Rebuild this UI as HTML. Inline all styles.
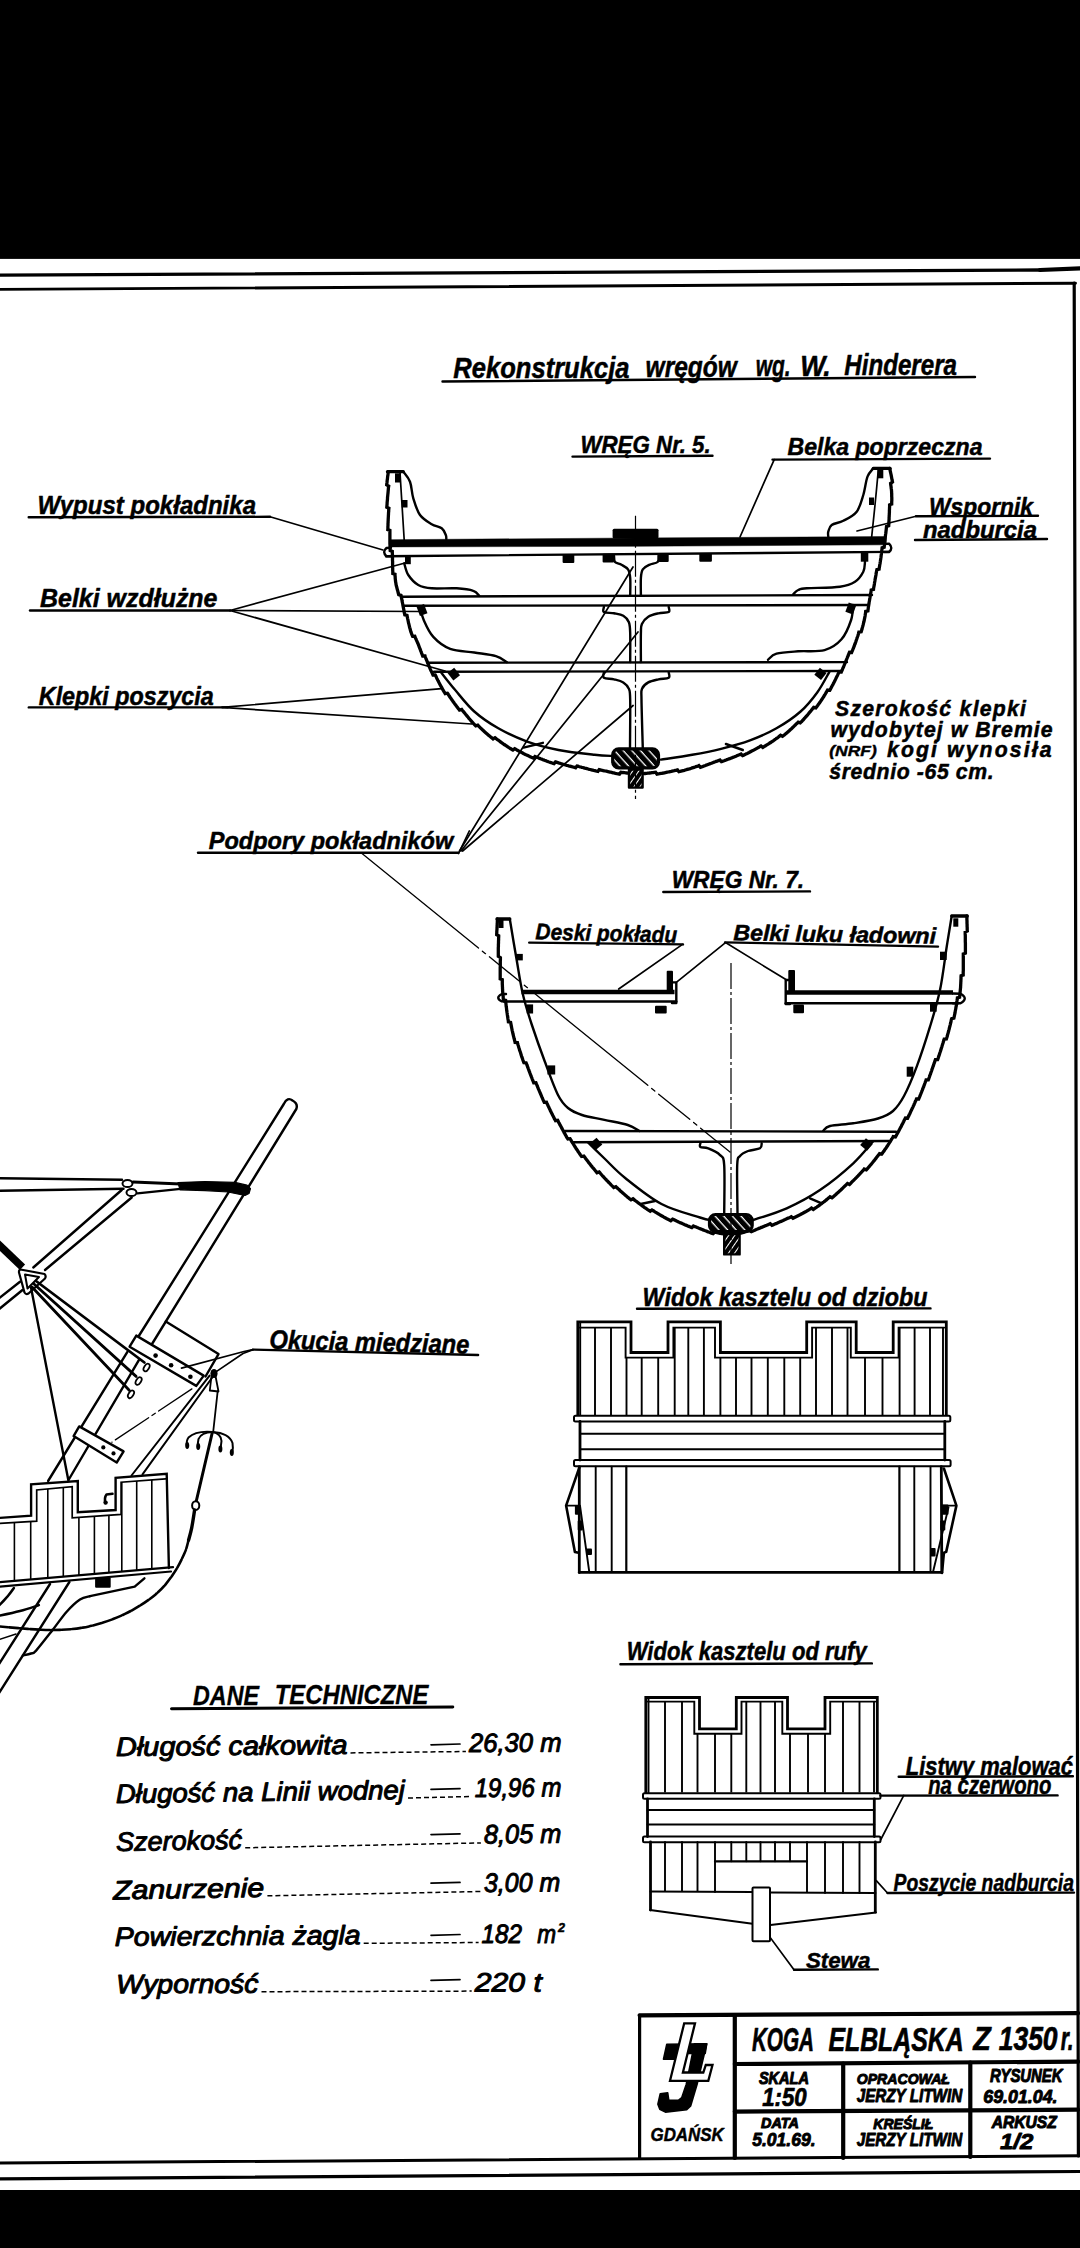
<!DOCTYPE html>
<html lang="pl"><head><meta charset="utf-8"><title>Koga elbląska z 1350 r.</title>
<style>
html,body{margin:0;padding:0;background:#fff;}
body{width:1080px;height:2248px;overflow:hidden;position:relative;}
svg{position:absolute;left:0;top:0;display:block;}
text{font-family:"Liberation Sans",sans-serif;fill:#000;}
</style></head><body>
<svg width="1080" height="2248" viewBox="0 0 1080 2248" stroke-linecap="round" stroke-linejoin="round">
<rect x="0" y="0" width="1080" height="2248" fill="#fff"/>
<rect x="0" y="0" width="1080" height="258.9" fill="#000"/>
<rect x="0" y="2190" width="1080" height="58" fill="#000"/>
<line x1="-2" y1="275.2" x2="1040" y2="270" stroke="#000" stroke-width="3.3" />
<line x1="1040" y1="270" x2="1082" y2="268.2" stroke="#000" stroke-width="4.2" />
<line x1="-2" y1="289.4" x2="1075.5" y2="283.2" stroke="#000" stroke-width="2.9" />
<line x1="1074.2" y1="283.2" x2="1078.4" y2="2156" stroke="#000" stroke-width="3.2" />
<line x1="-2" y1="2163.1" x2="1082" y2="2155.8" stroke="#000" stroke-width="3" />
<line x1="-2" y1="2178.8" x2="1082" y2="2171.5" stroke="#000" stroke-width="3.2" />
<text x="453.3" y="377.9" font-size="29.5" font-weight="bold" font-style="italic" textLength="176.2" lengthAdjust="spacingAndGlyphs" stroke="#000" stroke-width="0.5" stroke-linejoin="round">Rekonstrukcja</text>
<text x="645.6" y="376.6" font-size="29.5" font-weight="bold" font-style="italic" textLength="91.3" lengthAdjust="spacingAndGlyphs" stroke="#000" stroke-width="0.5" stroke-linejoin="round">wręgów</text>
<text x="755.7" y="375.8" font-size="29.5" font-weight="bold" font-style="italic" textLength="34.9" lengthAdjust="spacingAndGlyphs" stroke="#000" stroke-width="0.5" stroke-linejoin="round">wg.</text>
<text x="800.2" y="375.5" font-size="29.5" font-weight="bold" font-style="italic" textLength="30.6" lengthAdjust="spacingAndGlyphs" stroke="#000" stroke-width="0.5" stroke-linejoin="round">W.</text>
<text x="844.3" y="375.2" font-size="29.5" font-weight="bold" font-style="italic" textLength="112.7" lengthAdjust="spacingAndGlyphs" stroke="#000" stroke-width="0.5" stroke-linejoin="round">Hinderera</text>
<line x1="442.5" y1="381.5" x2="975" y2="377" stroke="#000" stroke-width="2.4" />
<text x="580.4" y="452.8" font-size="24.1" font-weight="bold" font-style="italic" textLength="130.3" lengthAdjust="spacingAndGlyphs" stroke="#000" stroke-width="0.5" stroke-linejoin="round">WRĘG Nr. 5.</text>
<line x1="572.5" y1="456.6" x2="712.5" y2="455.8" stroke="#000" stroke-width="2.4" />
<text x="787.5" y="454.9" font-size="24.1" font-weight="bold" font-style="italic" textLength="195" lengthAdjust="spacingAndGlyphs" stroke="#000" stroke-width="0.5" stroke-linejoin="round">Belka poprzeczna</text>
<line x1="772.5" y1="459.6" x2="990" y2="458.6" stroke="#000" stroke-width="2.4" />
<line x1="774.2" y1="459.6" x2="740" y2="537" stroke="#000" stroke-width="1.7" />
<text x="37.5" y="513.8" font-size="25.6" font-weight="bold" font-style="italic" textLength="218.5" lengthAdjust="spacingAndGlyphs" stroke="#000" stroke-width="0.5" stroke-linejoin="round">Wypust pokładnika</text>
<line x1="28.7" y1="517.2" x2="270" y2="516.8" stroke="#000" stroke-width="2.4" />
<line x1="270" y1="516.8" x2="383" y2="550" stroke="#000" stroke-width="1.7" />
<text x="929" y="515.4" font-size="24.7" font-weight="bold" font-style="italic" textLength="104" lengthAdjust="spacingAndGlyphs" stroke="#000" stroke-width="0.5" stroke-linejoin="round">Wspornik</text>
<line x1="916" y1="516.2" x2="1038" y2="515.8" stroke="#000" stroke-width="2.4" />
<text x="923" y="537.8" font-size="24" font-weight="bold" font-style="italic" textLength="114" lengthAdjust="spacingAndGlyphs" stroke="#000" stroke-width="0.5" stroke-linejoin="round">nadburcia</text>
<line x1="915" y1="540" x2="1047" y2="539" stroke="#000" stroke-width="2.4" />
<line x1="916" y1="516.2" x2="857" y2="531" stroke="#000" stroke-width="1.7" />
<text x="40" y="607" font-size="26.5" font-weight="bold" font-style="italic" textLength="177.5" lengthAdjust="spacingAndGlyphs" stroke="#000" stroke-width="0.5" stroke-linejoin="round">Belki wzdłużne</text>
<line x1="30" y1="610.5" x2="230" y2="610.5" stroke="#000" stroke-width="2.4" />
<line x1="230" y1="610.5" x2="420" y2="611.5" stroke="#000" stroke-width="1.7" />
<line x1="230" y1="610.5" x2="405" y2="563" stroke="#000" stroke-width="1.7" />
<line x1="230" y1="610.5" x2="445" y2="671" stroke="#000" stroke-width="1.7" />
<text x="38.8" y="705" font-size="25.4" font-weight="bold" font-style="italic" textLength="175" lengthAdjust="spacingAndGlyphs" stroke="#000" stroke-width="0.5" stroke-linejoin="round">Klepki poszycia</text>
<line x1="28.8" y1="707.4" x2="227.5" y2="707.4" stroke="#000" stroke-width="2.4" />
<line x1="222" y1="707.4" x2="441.8" y2="688.6" stroke="#000" stroke-width="1.7" />
<line x1="222" y1="707.4" x2="471.8" y2="724" stroke="#000" stroke-width="1.7" />
<text x="835" y="715.5" font-size="21.2" font-weight="bold" font-style="italic" textLength="191" lengthAdjust="spacing" stroke="#000" stroke-width="0.5" stroke-linejoin="round">Szerokość klepki</text>
<text x="830.4" y="736.5" font-size="21.2" font-weight="bold" font-style="italic" textLength="222.2" lengthAdjust="spacing" stroke="#000" stroke-width="0.5" stroke-linejoin="round">wydobytej w Bremie</text>
<text x="829.3" y="755.5" font-size="14.8" font-weight="bold" font-style="italic" textLength="47.4" lengthAdjust="spacingAndGlyphs" stroke="#000" stroke-width="0.4" stroke-linejoin="round">(NRF)</text>
<text x="887" y="756.5" font-size="21.2" font-weight="bold" font-style="italic" textLength="164.5" lengthAdjust="spacing" stroke="#000" stroke-width="0.5" stroke-linejoin="round">kogi wynosiła</text>
<text x="829.3" y="779" font-size="21.2" font-weight="bold" font-style="italic" textLength="164.3" lengthAdjust="spacing" stroke="#000" stroke-width="0.5" stroke-linejoin="round">średnio -65 cm.</text>
<text x="208.8" y="848.7" font-size="24.7" font-weight="bold" font-style="italic" textLength="244.4" lengthAdjust="spacingAndGlyphs" stroke="#000" stroke-width="0.5" stroke-linejoin="round">Podpory pokładników</text>
<line x1="198" y1="852.8" x2="458.5" y2="852.8" stroke="#000" stroke-width="2.4" />
<line x1="458.5" y1="853.5" x2="469.3" y2="831" stroke="#000" stroke-width="1.7" />
<line x1="459.5" y1="851" x2="633" y2="567" stroke="#000" stroke-width="1.7" />
<line x1="461" y1="851" x2="638" y2="632" stroke="#000" stroke-width="1.7" />
<line x1="462.6" y1="851" x2="633.1" y2="705.5" stroke="#000" stroke-width="1.7" />
<line x1="362" y1="853.5" x2="730" y2="1152" stroke="#000" stroke-width="1.3" stroke-dasharray="150 5 4 5 40 5 4 5"/>
<text x="671.7" y="887.8" font-size="24.4" font-weight="bold" font-style="italic" textLength="132.5" lengthAdjust="spacingAndGlyphs" stroke="#000" stroke-width="0.5" stroke-linejoin="round">WRĘG Nr. 7.</text>
<line x1="663.3" y1="892" x2="810" y2="891.4" stroke="#000" stroke-width="2.4" />
<text x="535.3" y="939.3" font-size="22.7" font-weight="bold" font-style="italic" textLength="141.7" lengthAdjust="spacingAndGlyphs" stroke="#000" stroke-width="0.5" stroke-linejoin="round" transform="rotate(1.3 535.3 939.3)">Deski pokładu</text>
<line x1="529.2" y1="942.6" x2="683" y2="944.4" stroke="#000" stroke-width="2.4" />
<text x="733.2" y="940.2" font-size="22.4" font-weight="bold" font-style="italic" textLength="202.8" lengthAdjust="spacingAndGlyphs" stroke="#000" stroke-width="0.5" stroke-linejoin="round" transform="rotate(1 733.2 940.2)">Belki luku ładowni</text>
<line x1="725" y1="942.4" x2="938" y2="946.6" stroke="#000" stroke-width="2.4" />
<text x="269.3" y="1348.6" font-size="26.5" font-weight="bold" font-style="italic" textLength="200" lengthAdjust="spacingAndGlyphs" stroke="#000" stroke-width="0.5" stroke-linejoin="round" transform="rotate(1.4 269.3 1348.6)">Okucia miedziane</text>
<line x1="253" y1="1349.6" x2="478.1" y2="1355" stroke="#000" stroke-width="2.4" />
<text x="642.6" y="1305.8" font-size="25.9" font-weight="bold" font-style="italic" textLength="285" lengthAdjust="spacingAndGlyphs" stroke="#000" stroke-width="0.5" stroke-linejoin="round">Widok kasztelu od dziobu</text>
<line x1="637" y1="1308.7" x2="930.5" y2="1308.4" stroke="#000" stroke-width="2.4" />
<text x="626.7" y="1660.4" font-size="25.6" font-weight="bold" font-style="italic" textLength="240" lengthAdjust="spacingAndGlyphs" stroke="#000" stroke-width="0.5" stroke-linejoin="round">Widok kasztelu od rufy</text>
<line x1="620.4" y1="1664.2" x2="871.9" y2="1663.4" stroke="#000" stroke-width="2.4" />
<text x="905.8" y="1774.6" font-size="25.1" font-weight="bold" font-style="italic" textLength="167.1" lengthAdjust="spacingAndGlyphs" stroke="#000" stroke-width="0.5" stroke-linejoin="round">Listwy malować</text>
<line x1="898.7" y1="1776.8" x2="1072.9" y2="1776.3" stroke="#000" stroke-width="2.4" />
<text x="928.2" y="1794" font-size="25.4" font-weight="bold" font-style="italic" textLength="123.3" lengthAdjust="spacingAndGlyphs" stroke="#000" stroke-width="0.5" stroke-linejoin="round">na czerwono</text>
<text x="893.6" y="1890.7" font-size="23.7" font-weight="bold" font-style="italic" textLength="180.3" lengthAdjust="spacingAndGlyphs" stroke="#000" stroke-width="0.5" stroke-linejoin="round">Poszycie nadburcia</text>
<line x1="887.5" y1="1893" x2="1074" y2="1892.6" stroke="#000" stroke-width="2.4" />
<line x1="887.5" y1="1893" x2="876.3" y2="1880.6" stroke="#000" stroke-width="1.7" />
<text x="805.9" y="1967.5" font-size="22.7" font-weight="bold" font-style="italic" textLength="64.5" lengthAdjust="spacingAndGlyphs" stroke="#000" stroke-width="0.5" stroke-linejoin="round">Stewa</text>
<line x1="794" y1="1969.8" x2="877.8" y2="1969.4" stroke="#000" stroke-width="2.4" />
<line x1="794" y1="1969.8" x2="762.2" y2="1926.7" stroke="#000" stroke-width="1.7" />
<text x="193" y="1704.8" font-size="27" font-weight="bold" font-style="italic" textLength="66" lengthAdjust="spacingAndGlyphs" stroke="#000" stroke-width="0.3" stroke-linejoin="round">DANE</text>
<text x="274.8" y="1704.2" font-size="27" font-weight="bold" font-style="italic" textLength="153.6" lengthAdjust="spacingAndGlyphs" stroke="#000" stroke-width="0.3" stroke-linejoin="round">TECHNICZNE</text>
<line x1="171.5" y1="1708.8" x2="452.8" y2="1707" stroke="#000" stroke-width="3" />
<text x="116" y="1756" font-size="26.6" font-weight="normal" font-style="italic" textLength="231.5" lengthAdjust="spacingAndGlyphs" stroke="#000" stroke-width="1" stroke-linejoin="round" transform="rotate(-0.5 116 1756)">Długość całkowita</text>
<text x="468.9" y="1752" font-size="26.6" font-weight="normal" font-style="italic" textLength="92.6" lengthAdjust="spacingAndGlyphs" stroke="#000" stroke-width="1" stroke-linejoin="round" transform="rotate(-0.3 468.9 1752)">26,30 m</text>
<line x1="350.5" y1="1752.9" x2="465.9" y2="1751.5" stroke="#000" stroke-width="1.5" stroke-dasharray="5 3" stroke-linecap="butt"/>
<line x1="431" y1="1744.8" x2="460" y2="1744" stroke="#000" stroke-width="1.7" />
<text x="116" y="1803" font-size="26.6" font-weight="normal" font-style="italic" textLength="289" lengthAdjust="spacingAndGlyphs" stroke="#000" stroke-width="1" stroke-linejoin="round" transform="rotate(-0.8 116 1803)">Długość na Linii wodnej</text>
<text x="474.7" y="1797" font-size="26.6" font-weight="normal" font-style="italic" textLength="86.8" lengthAdjust="spacingAndGlyphs" stroke="#000" stroke-width="1" stroke-linejoin="round" transform="rotate(-0.4 474.7 1797)">19,96 m</text>
<line x1="408" y1="1798" x2="471.7" y2="1796.5" stroke="#000" stroke-width="1.5" stroke-dasharray="5 3" stroke-linecap="butt"/>
<line x1="431" y1="1789.4" x2="460" y2="1788.6" stroke="#000" stroke-width="1.7" />
<text x="116.3" y="1851" font-size="26.6" font-weight="normal" font-style="italic" textLength="125.9" lengthAdjust="spacingAndGlyphs" stroke="#000" stroke-width="1" stroke-linejoin="round" transform="rotate(-1 116.3 1851)">Szerokość</text>
<text x="483.9" y="1843.4" font-size="26.6" font-weight="normal" font-style="italic" textLength="77.6" lengthAdjust="spacingAndGlyphs" stroke="#000" stroke-width="1" stroke-linejoin="round" transform="rotate(-0.5 483.9 1843.4)">8,05 m</text>
<line x1="245.2" y1="1847.8" x2="480.9" y2="1842.9" stroke="#000" stroke-width="1.5" stroke-dasharray="5 3" stroke-linecap="butt"/>
<line x1="431" y1="1834.6" x2="460" y2="1833.8" stroke="#000" stroke-width="1.7" />
<text x="113.3" y="1899.4" font-size="26.6" font-weight="normal" font-style="italic" textLength="151.1" lengthAdjust="spacingAndGlyphs" stroke="#000" stroke-width="1" stroke-linejoin="round" transform="rotate(-1 113.3 1899.4)">Zanurzenie</text>
<text x="483.9" y="1892" font-size="26.6" font-weight="normal" font-style="italic" textLength="76.4" lengthAdjust="spacingAndGlyphs" stroke="#000" stroke-width="1" stroke-linejoin="round" transform="rotate(-0.5 483.9 1892)">3,00 m</text>
<line x1="267.4" y1="1895.8" x2="480.9" y2="1891.5" stroke="#000" stroke-width="1.5" stroke-dasharray="5 3" stroke-linecap="butt"/>
<line x1="431" y1="1883.2" x2="460" y2="1882.4" stroke="#000" stroke-width="1.7" />
<text x="114.8" y="1945.9" font-size="26.6" font-weight="normal" font-style="italic" textLength="245.9" lengthAdjust="spacingAndGlyphs" stroke="#000" stroke-width="1" stroke-linejoin="round" transform="rotate(-0.4 114.8 1945.9)">Powierzchnia żagla</text>
<text x="481.6" y="1943" font-size="26.6" font-weight="normal" font-style="italic" textLength="40.5" lengthAdjust="spacingAndGlyphs" stroke="#000" stroke-width="1" stroke-linejoin="round" transform="rotate(-0.2 481.6 1943)">182</text>
<line x1="363.7" y1="1943.3" x2="478.6" y2="1942.5" stroke="#000" stroke-width="1.5" stroke-dasharray="5 3" stroke-linecap="butt"/>
<line x1="431" y1="1935.3" x2="460" y2="1934.5" stroke="#000" stroke-width="1.7" />
<text x="116.3" y="1993.3" font-size="26.6" font-weight="normal" font-style="italic" textLength="142.2" lengthAdjust="spacingAndGlyphs" stroke="#000" stroke-width="1" stroke-linejoin="round" transform="rotate(-0.2 116.3 1993.3)">Wyporność</text>
<text x="474.7" y="1991.6" font-size="26.6" font-weight="normal" font-style="italic" textLength="67.1" lengthAdjust="spacingAndGlyphs" stroke="#000" stroke-width="1" stroke-linejoin="round" transform="rotate(-0.1 474.7 1991.6)">220 t</text>
<line x1="261.5" y1="1991.7" x2="471.7" y2="1991.1" stroke="#000" stroke-width="1.5" stroke-dasharray="5 3" stroke-linecap="butt"/>
<line x1="431" y1="1980.4" x2="460" y2="1979.6" stroke="#000" stroke-width="1.7" />
<text x="537.2" y="1942.6" font-size="26.6" font-weight="normal" font-style="italic" textLength="18.8" lengthAdjust="spacingAndGlyphs" stroke="#000" stroke-width="1" stroke-linejoin="round">m</text>
<text x="558" y="1931.5" font-size="13.1" font-weight="bold" font-style="italic" textLength="7" lengthAdjust="spacingAndGlyphs" stroke="#000" stroke-width="0.5" stroke-linejoin="round">2</text>
<path d="M388.3 471.7L388.2 472.3L388.1 472.9L388.1 473.6L388 474.4L387.9 475.2L387.7 476.1L387.6 477.1L387.5 478.1L387.4 479.1L387.2 480.2L387.1 481.3L387 482.5L386.8 483.6L386.7 484.8L388.7 486L388.5 487.2L388.4 488.4L388.3 489.6L388.2 490.7L388.1 491.9L388 493L387.9 493.9L387.8 494.9L387.7 495.9L387.6 496.8L387.5 497.8L387.5 498.9L387.4 499.9L387.3 500.9L387.2 501.9L387.1 503L387.1 504L387 505.1L386.9 506.1L386.8 507.2L388.9 508.2L388.8 509.2L388.7 510.2L388.7 511.2L388.6 512.2L388.5 513.2L388.5 514.2L388.4 515.2L388.4 516.1L388.3 517.1L388.3 518L388.2 519.1L388.2 520.2L388.1 521.3L388.1 522.4L388 523.4L388 524.5L388 525.5L387.9 526.6L387.9 527.6L387.9 528.6L387.8 529.6L389.9 530.4L389.9 531.4L389.9 532.3L389.9 533.3L389.9 534.2L389.9 535.2L389.9 536.1L389.9 537L389.9 538L389.9 539.1L389.9 540.1L389.9 541.1L389.9 542.1L389.9 543L389.9 543.9L390 544.9L390 545.8L390 546.7L390.1 547.7L390.1 548.6L390.1 549.6L390.2 550.6L392.3 551.4L392.3 552.5L392.4 553.7L392.4 554.9L392.4 555.8L392.5 556.7L392.5 557.6L392.5 558.6L392.5 559.6L392.5 560.6L392.6 561.6L392.6 562.7L392.6 563.8L392.6 564.8L392.6 565.9L392.6 567L392.7 568.1L392.7 569.2L392.7 570.3L392.8 571.4L392.8 572.4L392.8 573.5L395 574.2L395 575.3L395.1 576.2L395.2 577.2L395.2 578.1L395.3 579L395.4 579.9L395.5 581.1L395.7 582.2L395.9 583.3L396 584.3L396.2 585.2L396.4 586.1L396.7 587L396.9 587.8L397.1 588.7L397.3 589.6L397.6 590.5L397.9 591.5L398.1 592.5L398.4 593.6L398.7 594.7L401 595.4L401.3 596.8L401.4 597.6L401.6 598.4L401.8 599.3L402 600.2L402.1 601.1L402.3 602.1L402.5 603L402.7 604L402.9 605.1L403.1 606.1L403.3 607.2L403.5 608.3L403.7 609.3L403.9 610.4L404.1 611.5L404.3 612.6L404.5 613.7L404.8 614.9L407 615.4L407.2 616.4L407.4 617.5L407.6 618.6L407.9 619.6L408.1 620.7L408.3 621.7L408.5 622.7L408.7 623.7L409 624.6L409.2 625.5L409.4 626.4L409.6 627.3L409.8 628.1L410.2 629.3L410.5 630.5L410.8 631.6L411.2 632.6L411.5 633.6L411.9 634.5L412.2 635.5L412.6 636.3L414.8 636.2L415.1 637L415.4 637.9L415.8 638.7L416.2 639.5L416.5 640.3L416.9 641.2L417.3 642.1L417.7 643L418.1 643.9L418.5 644.9L418.9 646L419.2 646.8L419.5 647.7L419.9 648.6L420.2 649.5L420.6 650.4L420.9 651.3L421.3 652.2L421.6 653.1L422 654.1L422.3 655L422.7 656L425 656L425.3 657L425.7 658L426.1 659L426.5 659.9L426.9 660.9L427.3 661.9L427.6 662.9L428 663.8L428.5 664.8L428.9 665.8L429.3 666.8L429.7 667.7L430.1 668.7L430.5 669.6L430.9 670.5L431.4 671.4L431.8 672.3L432.2 673.2L432.6 674.1L433 675L435.2 674.9L435.7 675.8L436.1 676.7L436.5 677.6L436.9 678.5L437.4 679.4L437.8 680.2L438.3 681.1L438.7 682L439.2 682.9L439.6 683.8L440.1 684.7L440.6 685.6L441.1 686.5L441.6 687.4L442.1 688.3L442.6 689.2L443.1 690.1L443.6 691L444.1 691.9L444.7 692.7L445.2 693.6L447.4 693.2L448 694L448.5 694.9L449.1 695.7L449.6 696.6L450.2 697.4L450.8 698.3L451.4 699.1L452 700L452.6 700.8L453.2 701.7L453.8 702.5L454.4 703.4L455 704.2L455.7 705.1L456.3 705.9L456.9 706.8L457.6 707.6L458.2 708.4L458.9 709.3L459.5 710.1L461.7 709.5L462.3 710.3L463 711.1L463.7 711.9L464.3 712.7L465 713.5L465.6 714.3L466.3 715.1L466.9 715.9L467.6 716.7L468.3 717.5L468.9 718.3L469.6 719L470.2 719.8L470.9 720.6L471.6 721.4L472.2 722.1L472.9 722.9L473.6 723.7L474.3 724.4L475 725.2L475.7 725.9L477.8 725.1L478.5 725.9L479.2 726.6L479.9 727.3L480.7 728.1L481.4 728.8L482.2 729.5L483 730.3L483.8 731L484.6 731.8L485.4 732.5L486.2 733.2L486.9 733.8L487.7 734.5L488.4 735.1L489.2 735.7L489.9 736.3L490.7 737L491.5 737.6L492.3 738.2L493.1 738.9L495 737.7L495.8 738.3L496.6 739L497.4 739.6L498.3 740.2L499.1 740.8L499.9 741.4L500.8 742.1L501.6 742.7L502.5 743.3L503.3 743.9L504.2 744.5L505 745L505.9 745.6L506.8 746.2L507.7 746.8L508.5 747.4L509.4 747.9L510.3 748.5L511.2 749L512 749.6L512.9 750.1L514.7 748.7L515.6 749.2L516.4 749.7L517.3 750.2L518.2 750.7L519 751.2L519.9 751.7L520.8 752.1L521.7 752.6L522.6 753L523.4 753.5L524.3 753.9L525.2 754.4L526.1 754.8L527 755.2L527.9 755.6L528.8 756.1L529.7 756.5L530.6 756.9L531.5 757.3L532.5 757.7L533.4 758.1L535 756.5L535.9 756.9L536.8 757.2L537.7 757.6L538.7 758L539.6 758.4L540.6 758.8L541.6 759.1L542.5 759.5L543.5 759.9L544.5 760.3L545.5 760.6L546.4 761L547.4 761.3L548.3 761.7L549.2 762L550.2 762.3L551.1 762.7L552.1 763L553.1 763.3L554.1 763.6L555.5 761.9L556.5 762.2L557.5 762.5L558.5 762.9L559.5 763.2L560.5 763.5L561.5 763.8L562.5 764.1L563.6 764.4L564.6 764.7L565.6 765L566.6 765.3L567.6 765.5L568.6 765.8L569.7 766.1L570.7 766.4L571.7 766.7L572.7 767L573.7 767.2L574.7 767.5L575.6 767.8L577 766L578 766.2L578.9 766.5L579.9 766.8L580.8 767L581.8 767.3L582.7 767.5L583.8 767.8L584.8 768.1L585.9 768.4L587 768.7L588.1 769L589.2 769.3L590.3 769.5L591.4 769.8L592.5 770.1L593.6 770.4L594.7 770.6L595.7 770.9L596.8 771.2L597.9 771.4L599.2 769.6L600.3 769.8L601.3 770.1L602.3 770.3L603.3 770.6L604.3 770.8L605.3 771L606.3 771.2L607.2 771.4L608.1 771.7L609 771.9L609.9 772.1L610.7 772.2L611.5 772.4L612.3 772.6L613.1 772.8L613.8 772.9L615.4 773.3L616.9 773.6L618.2 773.8L619.5 774.1L620.9 772.2L621.9 772.3L622.9 772.5L623.9 772.6L624.7 772.7L625.5 772.8L626.2 772.9L626.9 773L627.5 773.1L628 773.2" fill="none" stroke="#000" stroke-width="3.3" stroke-linejoin="miter"/>
<path d="M889.7 468.3L889.8 468.9L889.9 469.5L890.1 470.2L890.2 470.9L890.4 471.7L890.6 472.6L890.8 473.5L891 474.4L891.2 475.4L891.4 476.4L891.6 477.5L891.8 478.6L892 479.7L892.3 480.9L892.5 482.1L890.6 483.4L890.7 484.6L890.9 485.8L891.1 487L891.2 488.2L891.4 489.3L891.5 490.5L891.6 491.7L891.6 492.6L891.7 493.5L891.7 494.5L891.7 495.5L891.7 496.5L891.8 497.5L891.8 498.6L891.8 499.6L891.8 500.7L891.7 501.8L891.7 502.9L891.7 504L889.6 504.8L889.6 505.9L889.6 507L889.5 508.1L889.5 509.2L889.4 510.3L889.4 511.4L889.4 512.4L889.3 513.5L889.3 514.5L889.2 515.5L889.2 516.5L889.1 517.4L889.1 518.4L889.1 519.3L889 520.1L889 521L888.9 521.8L888.9 523.2L888.8 524.5L888.7 525.8L886.5 526.5L886.4 527.6L886.3 528.6L886.2 529.6L886.1 530.5L886 531.4L885.9 532.3L885.8 533.2L885.6 534.2L885.5 535.1L885.4 536.1L885.3 537.2L885.2 538.3L885.1 539.3L885 540.2L884.9 541.2L884.8 542.2L884.7 543.1L884.6 544.1L884.4 545.1L884.3 546.2L884.2 547.2L882.1 547.8L882 548.8L881.9 549.9L881.7 550.9L881.6 551.9L881.5 553L881.4 554L881.2 555.1L881.1 556.2L881 557.2L880.8 558.3L880.7 559.3L880.5 560.2L880.4 561.2L880.2 562.2L880.1 563.2L879.9 564.2L879.7 565.1L879.6 566.1L879.4 567.1L879.2 568.1L879.1 569.1L876.9 569.6L876.7 570.6L876.5 571.6L876.3 572.6L876.1 573.6L876 574.7L875.8 575.7L875.6 576.8L875.4 577.9L875.2 578.9L875 580L874.9 581L874.7 582L874.5 583L874.4 584L874.2 585.1L874 586.2L873.8 587.2L873.6 588.3L873.5 589.4L871.2 590L871.1 591.1L870.9 592.2L870.7 593.3L870.5 594.4L870.3 595.4L870.1 596.5L870 597.5L869.8 598.6L869.6 599.6L869.5 600.6L869.3 601.5L869.1 602.5L869 603.4L868.8 604.3L868.7 605.1L868.5 606.4L868.3 607.6L868.2 608.8L868 609.9L867.9 610.9L865.7 611.4L865.6 612.3L865.5 613.3L865.3 614.2L865.2 615.1L865.1 616L864.9 616.9L864.7 617.9L864.5 618.9L864.3 619.9L864.1 620.9L863.9 621.8L863.6 622.8L863.4 623.8L863.2 624.7L862.9 625.7L862.6 626.8L862.3 627.8L862.1 628.8L861.8 629.8L861.5 630.8L861.2 631.8L858.9 632L858.7 633L858.4 634L858.1 634.9L857.8 635.9L857.5 636.8L857.1 637.8L856.8 638.8L856.5 639.7L856.2 640.6L855.9 641.5L855.6 642.3L855.3 643.2L855 644L854.6 644.9L854.3 645.9L853.9 646.9L853.5 648L853 649.1L852.5 650.4L851.9 651.7L851.6 652.5L849.5 652.3L849.2 653L848.8 653.9L848.5 654.7L848.2 655.6L847.8 656.4L847.4 657.3L847.1 658.3L846.7 659.2L846.3 660.1L845.9 661.1L845.5 662.1L845.1 663L844.7 664L844.3 665L843.9 666L843.5 667L843 668L842.6 669L842.2 670L841.7 671L841.3 672L839 672L838.6 673L838.1 673.9L837.7 674.9L837.3 675.8L836.8 676.7L836.4 677.6L835.9 678.5L835.5 679.4L835 680.4L834.6 681.3L834.1 682.2L833.6 683.1L833.2 684L832.7 684.9L832.2 685.8L831.7 686.7L831.3 687.6L830.8 688.5L830.3 689.4L829.8 690.3L827.6 690L827.1 690.9L826.6 691.7L826.1 692.6L825.6 693.5L825.1 694.4L824.5 695.2L824 696.1L823.5 697L822.9 697.8L822.4 698.7L821.8 699.6L821.2 700.4L820.6 701.3L820.1 702.1L819.5 702.9L818.9 703.8L818.3 704.6L817.7 705.4L817.1 706.3L816.5 707.1L815.9 707.9L813.7 707.3L813.1 708.1L812.4 708.9L811.8 709.7L811.2 710.5L810.5 711.3L809.8 712.1L809.2 712.9L808.5 713.7L807.9 714.5L807.2 715.3L806.5 716.1L805.8 716.9L805.1 717.7L804.4 718.4L803.8 719.2L803.1 720L802.4 720.7L801.7 721.5L801 722.2L800.3 722.9L798.2 722.1L797.5 722.8L796.8 723.5L796.1 724.2L795.3 725L794.6 725.7L793.9 726.4L793.2 727.1L792.4 727.8L791.7 728.5L790.9 729.2L790.2 729.8L789.5 730.5L788.7 731.2L788 731.9L787.2 732.5L786.4 733.2L785.7 733.8L784.9 734.5L784.1 735.1L783.3 735.8L782.5 736.4L780.6 735.3L779.8 735.9L779 736.5L778.2 737.2L777.4 737.8L776.5 738.4L775.7 739L774.8 739.6L774 740.2L773.2 740.8L772.4 741.3L771.5 741.9L770.7 742.5L769.8 743L769 743.6L768.1 744.1L767.2 744.7L766.4 745.2L765.5 745.8L764.6 746.3L763.7 746.8L762.8 747.4L761 746L760.1 746.5L759.2 747.1L758.3 747.6L757.3 748.1L756.4 748.6L755.5 749.1L754.6 749.6L753.7 750.1L752.8 750.6L751.8 751L750.9 751.5L750 752L749.1 752.5L748.2 752.9L747.3 753.4L746.4 753.8L745.4 754.3L744.5 754.7L743.6 755.2L742.6 755.6L741 754L740.1 754.4L739.2 754.8L738.2 755.2L737.3 755.6L736.4 756L735.4 756.4L734.5 756.8L733.6 757.1L732.6 757.5L731.7 757.9L730.8 758.2L729.8 758.6L728.9 758.9L727.9 759.3L727 759.6L726.1 760L725.1 760.3L724.2 760.7L723.3 761L722.3 761.4L721.4 761.7L719.9 760L719 760.4L718 760.7L717.1 761.1L716.1 761.4L715.2 761.8L714.2 762.1L713.2 762.5L712.2 762.9L711.3 763.3L710.3 763.6L709.3 764L708.3 764.4L707.3 764.7L706.3 765.1L705.4 765.5L704.4 765.8L703.4 766.2L702.4 766.6L701.4 766.9L700.4 767.3L698.9 765.6L698 766L697 766.3L696 766.6L695.1 767L694.1 767.3L693.1 767.6L692.2 767.9L691.2 768.3L690.3 768.6L689.3 768.9L688.4 769.1L687.4 769.4L686.4 769.7L685.3 770L684.3 770.3L683.2 770.6L682.1 770.9L681 771.2L680 771.5L678.9 771.7L677.5 769.9L676.5 770.2L675.4 770.4L674.4 770.7L673.3 770.9L672.3 771.1L671.3 771.4L670.2 771.6L669.2 771.8L668.3 772L667.3 772.2L666.3 772.4L665.4 772.6L664.4 772.8L663.5 773L662.7 773.1L661.8 773.3L661 773.5L659.6 773.7L658.3 774L657 774.2L655.6 772.3L654.3 772.4L653.1 772.6L651.9 772.7L650.8 772.9L649.7 773L648.7 773.1L647.7 773.2L646.8 773.3L646 773.4L645.2 773.5L644.6 773.5L644 773.6" fill="none" stroke="#000" stroke-width="3.3" stroke-linejoin="miter"/>
<line x1="387.5" y1="471.7" x2="403.3" y2="471.7" stroke="#000" stroke-width="3.3" />
<line x1="873.3" y1="468.3" x2="890" y2="468.3" stroke="#000" stroke-width="3.3" />
<path d="M400 472.5L404.2 540" fill="none" stroke="#000" stroke-width="1.7" />
<path d="M878.3 470C877.8 475.8 876.1 493.9 875 505C873.9 516.1 872.2 531.4 871.7 536.7" fill="none" stroke="#000" stroke-width="1.7" />
<path d="M403.3 471.7C404.4 473.4 408.3 477.3 410 481.7C411.7 486.1 411.6 492.8 413.3 498.3C415 503.9 416.9 510.7 420 515C423.1 519.3 428.1 522 431.7 524.2C435.3 526.4 439.3 526.5 441.7 528.3C444.1 530.1 445 533.2 445.8 535C446.6 536.8 446.2 538.5 446.3 539.2" fill="none" stroke="#000" stroke-width="2.4" />
<path d="M873.3 468.3C872.3 469.7 869.2 472.2 867.5 476.7C865.8 481.1 865.1 489.2 863.3 495C861.5 500.8 860 507.4 856.7 511.7C853.4 516 847.5 518.6 843.3 520.8C839.1 523 834.2 523.2 831.7 525C829.2 526.8 828.9 529.8 828.3 531.7C827.7 533.7 828.3 535.9 828.3 536.7" fill="none" stroke="#000" stroke-width="2.4" />
<path d="M390.5 539.7L635 538L886 536.6L886 544.8L635 546.3L390.5 546.9Z" fill="#000" stroke="#000" stroke-width="0.5" />
<line x1="386" y1="556.2" x2="889" y2="551.9" stroke="#000" stroke-width="2.4" />
<path d="M391 547.6L386.5 548Q381.8 552 386.5 556.3L391 556.3" fill="none" stroke="#000" stroke-width="2.4" />
<path d="M885 544L889 543.6Q893.6 548 889 552L884 552" fill="none" stroke="#000" stroke-width="2.4" />
<rect x="612.6" y="528.7" width="45.9" height="9.8" fill="#000" rx="1.5"/>
<rect x="562.6" y="554.1" width="11.7" height="8.8" fill="#000" rx="1"/>
<rect x="602.6" y="553.8" width="11.4" height="8.8" fill="#000" rx="1"/>
<rect x="658.5" y="553.3" width="10.2" height="8.8" fill="#000" rx="1"/>
<rect x="699.3" y="552.9" width="12.6" height="8.8" fill="#000" rx="1"/>
<rect x="395" y="473.3" width="5.8" height="9.2" fill="#000" />
<rect x="401.7" y="500" width="5.8" height="7.5" fill="#000" />
<rect x="877.5" y="470" width="5.8" height="8.3" fill="#000" />
<rect x="869" y="497.5" width="5" height="7.5" fill="#000" />
<rect x="405" y="556.7" width="5.8" height="7.5" fill="#000" />
<rect x="860.8" y="551.7" width="7.5" height="10" fill="#000" />
<path d="M404.2 563.3C404.9 565.2 405.9 571.4 408.3 575C410.7 578.6 414.4 582.8 418.3 585C422.2 587.2 425.3 587.8 431.7 588.3C438.1 588.8 449.8 587.9 456.7 588.3C463.6 588.7 469.6 589.5 473.3 590.8C477.1 592 478.2 595 479.2 595.8" fill="none" stroke="#000" stroke-width="2.4" />
<path d="M865 561.7C864.7 563.4 865 568.4 863.3 571.7C861.6 575 858.9 579.2 855 581.7C851.1 584.2 848 585.6 840 586.7C832 587.8 813.7 587.8 806.7 588.3C799.8 588.8 800.5 589 798.3 590C796.1 591 794.1 593.5 793.3 594.2" fill="none" stroke="#000" stroke-width="2.4" />
<line x1="401.5" y1="596.7" x2="872" y2="595" stroke="#000" stroke-width="2.4" />
<line x1="403.5" y1="605.8" x2="869" y2="605" stroke="#000" stroke-width="2.4" />
<rect x="418" y="605" width="8" height="10" fill="#000" transform="rotate(-20 422 610)"/>
<rect x="847" y="603.5" width="8" height="10" fill="#000" transform="rotate(20 851 608)"/>
<path d="M420 606.7C420.6 608.9 421.5 615 423.7 620C425.9 625 428.9 632.1 433.3 636.9C437.7 641.7 443.4 646.3 450.2 648.9C457 651.5 466.7 651.3 474.3 652.5C481.9 653.7 490.5 654.5 495.9 656.1C501.3 657.7 505 661.1 506.8 662.1" fill="none" stroke="#000" stroke-width="2.4" />
<path d="M853 605C852.7 607.5 853 614.3 851.1 620C849.2 625.7 845.9 634.3 841.5 639.3C837.1 644.3 831.8 648.1 824.6 650.1C817.4 652.1 806.1 650.7 798.1 651.3C790.1 651.9 781.5 652.3 776.5 653.7C771.5 655.1 769.4 658.7 768 659.7" fill="none" stroke="#000" stroke-width="2.4" />
<line x1="428.5" y1="662.8" x2="847" y2="662.1" stroke="#000" stroke-width="2.4" />
<line x1="434" y1="671.8" x2="842" y2="671" stroke="#000" stroke-width="2.4" />
<rect x="449.5" y="669.5" width="8.5" height="9.5" fill="#000" transform="rotate(-38 453.7 674.2)"/>
<rect x="816.2" y="669.4" width="8.5" height="9" fill="#000" transform="rotate(38 820.4 673.9)"/>
<path d="M440.6 671.8C443 674.8 449.4 683.2 455 689.8C460.6 696.4 467.1 705.1 474.3 711.5C481.5 717.9 489.5 723.3 498.3 728.3C507.1 733.3 517.2 738 527.2 741.6C537.2 745.2 547.3 747.8 558.5 750C569.7 752.2 585.4 753.8 594.6 754.8C603.8 755.8 610.7 755.8 613.9 756" fill="none" stroke="#000" stroke-width="2.4" />
<path d="M829.4 671.8C827.4 675.2 822.2 685.6 817.4 692.2C812.6 698.8 807.4 705.5 800.6 711.5C793.8 717.5 784.9 723.5 776.5 728.3C768.1 733.1 759.2 737 750 740.4C740.8 743.8 730.7 746.4 721.1 748.8C711.5 751.2 702.2 753 692.2 754.8C682.2 756.6 666.1 758.8 660.9 759.6" fill="none" stroke="#000" stroke-width="2.4" />
<line x1="523.6" y1="747.6" x2="542.9" y2="742.8" stroke="#000" stroke-width="2.4" />
<line x1="725.9" y1="744" x2="742.8" y2="750" stroke="#000" stroke-width="2.4" />
<path d="M614 555.6C614.2 556.7 613.8 560.5 615 562C616.2 563.5 619.3 563.6 621.5 564.8C623.7 566 626.5 567.2 628 569.4C629.5 571.6 629.8 573.4 630.2 577.8C630.6 582.2 630.2 592.9 630.2 595.9" fill="none" stroke="#000" stroke-width="2.4" />
<path d="M658.5 555.6C658.4 556.7 659.1 560.5 657.6 562C656.1 563.5 651.8 563.6 649.3 564.8C646.8 566 644.2 567.2 642.8 569.4C641.4 571.6 641.2 573.4 640.9 577.8C640.6 582.2 640.9 592.9 640.9 595.9" fill="none" stroke="#000" stroke-width="2.4" />
<path d="M603.9 607C603.9 607.8 602.2 611 603.9 612C605.6 613 610.8 612.7 614 613.3C617.2 613.9 620.8 614.2 623.3 615.7C625.8 617.2 627.8 619.3 628.9 622.2C630 625.1 630 626.7 630.2 633.3C630.4 639.9 630.2 657.2 630.2 662" fill="none" stroke="#000" stroke-width="2.4" />
<path d="M668.7 607C668.7 607.8 670.4 611 668.7 612C667 613 661.9 612.5 658.5 613.3C655.1 614.1 651.1 614.9 648.3 616.7C645.5 618.5 643.1 621.2 641.9 624C640.7 626.8 641.1 627 640.9 633.3C640.7 639.6 640.9 657.2 640.9 662" fill="none" stroke="#000" stroke-width="2.4" />
<path d="M603.9 672.5C603.9 673.4 602.2 676.7 603.9 677.8C605.6 678.9 610.8 678.5 614 679.3C617.2 680.1 620.8 680.8 623.3 682.4C625.8 684 627.8 686 628.9 688.9C630 691.8 630 690 630.2 700C630.4 710 630 740.7 630 748.8" fill="none" stroke="#000" stroke-width="2.4" />
<path d="M668.7 672.5C668.7 673.4 670.4 676.7 668.7 677.8C667 678.9 661.9 678.5 658.5 679.3C655.1 680.1 651 680.8 648.3 682.4C645.5 684 643.1 686 642 688.9C640.9 691.8 641.4 690 641.5 700C641.6 710 642.6 740.7 642.8 748.8" fill="none" stroke="#000" stroke-width="2.4" />
<defs><pattern id="hatA" width="6.4" height="6.4" patternUnits="userSpaceOnUse" patternTransform="rotate(48)"><rect width="6.4" height="6.4" fill="#000"/><rect y="0" width="6.4" height="1.3" fill="#fff"/></pattern><pattern id="hatB" width="5" height="5" patternUnits="userSpaceOnUse" patternTransform="rotate(-55)"><rect width="5" height="5" fill="#000"/><rect y="0" width="5" height="1.0" fill="#fff"/></pattern></defs>
<rect x="612.7" y="748.8" width="45.8" height="19" fill="url(#hatA)" stroke="#000" stroke-width="3.2" rx="6"/>
<rect x="629" y="769.5" width="13.6" height="18.1" fill="url(#hatB)" stroke="#000" stroke-width="2.4" />
<line x1="635.5" y1="515.7" x2="635.5" y2="799" stroke="#000" stroke-width="1.2" stroke-dasharray="26 3 3 3" stroke-linecap="butt"/>
<path d="M497.5 919L497.4 919.5L497.4 920.2L497.4 920.9L497.3 921.7L497.3 922.6L497.2 923.6L497.2 924.6L497.1 925.6L497.1 926.7L497 927.8L497 929L496.9 930.1L496.8 931.3L496.8 932.5L496.7 933.7L496.7 934.8L498.7 935.8L498.7 936.9L498.6 938L498.6 939L498.6 940L498.5 941.1L498.5 942.1L498.5 943.1L498.4 944L498.4 944.9L498.4 945.8L498.4 946.6L498.3 947.5L498.3 948.4L498.3 949.3L498.3 950.3L498.3 951.4L498.3 952.5L498.3 953.7L498.3 955L498.3 956.4L500.4 957.7L500.4 958.5L500.4 959.3L500.4 960.1L500.3 960.9L500.3 961.8L500.3 962.7L500.3 963.6L500.3 964.5L500.3 965.4L500.3 966.4L500.2 967.3L500.2 968.3L500.2 969.3L500.2 970.3L500.2 971.3L500.2 972.4L500.2 973.4L500.2 974.5L500.2 975.5L500.2 976.6L500.2 977.7L500.2 978.8L502.3 979.7L502.3 980.8L502.3 981.9L502.3 983L502.3 984.1L502.4 985.2L502.4 986.3L502.5 987.4L502.5 988.5L502.6 989.6L502.6 990.8L502.7 991.9L502.8 993L502.9 994.1L503 995L503.1 996L503.2 996.9L503.2 997.9L503.3 998.9L503.4 999.8L505.6 1000.4L505.7 1001.4L505.8 1002.4L505.9 1003.4L506 1004.4L506.1 1005.4L506.2 1006.4L506.4 1007.4L506.5 1008.4L506.6 1009.4L506.7 1010.4L506.9 1011.5L507 1012.5L507.2 1013.5L507.3 1014.5L507.5 1015.6L507.6 1016.6L507.8 1017.7L507.9 1018.7L508.1 1019.7L508.3 1020.8L508.4 1021.8L510.6 1022.3L510.8 1023.3L511 1024.4L511.2 1025.4L511.4 1026.4L511.6 1027.5L511.8 1028.5L512 1029.5L512.2 1030.6L512.5 1031.6L512.7 1032.6L512.9 1033.7L513.2 1034.7L513.4 1035.7L513.6 1036.7L513.9 1037.6L514.1 1038.6L514.4 1039.5L514.6 1040.5L514.9 1041.4L515.1 1042.4L517.4 1042.6L517.6 1043.5L517.9 1044.5L518.2 1045.4L518.5 1046.4L518.8 1047.4L519.1 1048.3L519.4 1049.3L519.6 1050.2L520 1051.2L520.3 1052.1L520.6 1053.1L520.9 1054L521.2 1055L521.5 1056L521.8 1056.9L522.2 1057.9L522.5 1058.8L522.8 1059.8L523.2 1060.8L523.5 1061.7L523.9 1062.7L526.1 1062.8L526.5 1063.7L526.8 1064.7L527.2 1065.6L527.5 1066.6L527.9 1067.6L528.2 1068.5L528.6 1069.5L528.9 1070.4L529.3 1071.4L529.7 1072.4L530 1073.3L530.4 1074.3L530.8 1075.3L531.1 1076.2L531.5 1077.2L531.9 1078.1L532.2 1079L532.6 1080L533 1080.9L533.3 1081.8L533.7 1082.8L535.9 1082.7L536.3 1083.7L536.7 1084.6L537.1 1085.5L537.4 1086.5L537.8 1087.4L538.2 1088.3L538.6 1089.3L539 1090.2L539.4 1091.2L539.8 1092.1L540.2 1093L540.6 1094L541 1094.9L541.4 1095.8L541.8 1096.8L542.2 1097.7L542.6 1098.7L543 1099.6L543.4 1100.5L543.9 1101.5L544.3 1102.4L546.5 1102.3L546.9 1103.2L547.4 1104.2L547.8 1105.1L548.2 1106L548.7 1107L549.1 1107.9L549.5 1108.8L550 1109.7L550.4 1110.7L550.9 1111.6L551.3 1112.5L551.8 1113.4L552.2 1114.3L552.7 1115.3L553.2 1116.2L553.6 1117.1L554.1 1118L554.5 1118.9L555 1119.8L555.5 1120.7L557.7 1120.4L558.2 1121.3L558.6 1122.2L559.1 1123.1L559.6 1124L560 1124.9L560.5 1125.8L561 1126.7L561.5 1127.5L561.9 1128.4L562.4 1129.3L562.9 1130.2L563.4 1131.1L563.9 1132L564.3 1132.9L564.8 1133.7L565.3 1134.6L565.8 1135.5L566.3 1136.4L566.8 1137.3L567.3 1138.1L567.9 1139L570.1 1138.7L570.6 1139.5L571.1 1140.4L571.6 1141.3L572.1 1142.1L572.7 1143L573.2 1143.8L573.7 1144.7L574.3 1145.6L574.8 1146.4L575.3 1147.3L575.9 1148.1L576.4 1149L577 1149.8L577.6 1150.7L578.1 1151.5L578.7 1152.4L579.3 1153.2L579.8 1154L580.4 1154.9L581 1155.7L581.6 1156.5L583.8 1156L584.4 1156.8L585 1157.6L585.6 1158.4L586.2 1159.2L586.8 1160L587.4 1160.8L588 1161.6L588.6 1162.4L589.2 1163.2L589.9 1164L590.5 1164.8L591.1 1165.6L591.8 1166.4L592.4 1167.2L593 1167.9L593.7 1168.7L594.4 1169.5L595 1170.3L595.7 1171.1L596.3 1171.9L597 1172.7L599.1 1171.9L599.8 1172.7L600.5 1173.5L601.1 1174.2L601.8 1175L602.5 1175.8L603.2 1176.5L603.9 1177.3L604.6 1178L605.3 1178.8L606 1179.5L606.7 1180.3L607.4 1181L608.1 1181.7L608.8 1182.5L609.5 1183.2L610.2 1183.9L610.9 1184.7L611.6 1185.4L612.4 1186.1L613.1 1186.8L613.8 1187.5L615.9 1186.6L616.6 1187.3L617.3 1188L618 1188.7L618.8 1189.3L619.5 1190L620.2 1190.7L621 1191.4L621.7 1192L622.5 1192.7L623.3 1193.4L624 1194.1L624.8 1194.7L625.6 1195.4L626.3 1196.1L627.1 1196.7L627.9 1197.4L628.7 1198L629.5 1198.7L630.2 1199.3L631 1199.9L633 1198.8L633.8 1199.4L634.6 1200.1L635.4 1200.7L636.2 1201.3L637 1201.9L637.8 1202.5L638.6 1203.1L639.4 1203.7L640.2 1204.3L641 1204.9L641.8 1205.5L642.6 1206.1L643.5 1206.7L644.3 1207.3L645.1 1207.8L646 1208.4L646.8 1209L647.6 1209.6L648.5 1210.1L649.3 1210.7L650.2 1211.2L652 1209.9L652.9 1210.5L653.7 1211L654.6 1211.6L655.4 1212.1L656.3 1212.6L657.1 1213.1L658 1213.7L658.9 1214.2L659.7 1214.7L660.6 1215.2L661.5 1215.7L662.4 1216.2L663.2 1216.7L664.1 1217.2L665.1 1217.7L666 1218.2L666.9 1218.7L667.9 1219.2L668.9 1219.7L669.9 1220.2L670.8 1220.7L672.6 1219.2L673.6 1219.6L674.6 1220.1L675.6 1220.6L676.6 1221.1L677.6 1221.5L678.6 1222L679.7 1222.4L680.7 1222.9L681.7 1223.3L682.7 1223.8L683.8 1224.2L684.8 1224.7L685.8 1225.1L686.8 1225.5L687.8 1226L688.8 1226.4L689.8 1226.8L690.8 1227.2L691.8 1227.6L693.4 1226L694.3 1226.4L695.3 1226.7L696.2 1227.1L697.1 1227.5L698 1227.8L698.9 1228.2L699.8 1228.5L700.6 1228.9L701.5 1229.2L702.3 1229.5L703.1 1229.9L703.9 1230.2L704.6 1230.5L705.4 1230.7L706.1 1231L706.8 1231.3L707.4 1231.6L708.1 1231.8L709.9 1232.5L711.5 1233.1L713.1 1233.7L714.9 1232L716.1 1232.4L717.2 1232.7L718.2 1232.9L719.1 1233.1L719.9 1233.3L720.6 1233.4L721.3 1233.5L721.9 1233.6L722.5 1233.7L723 1233.8L723.5 1233.8L724 1234" fill="none" stroke="#000" stroke-width="3.3" stroke-linejoin="miter"/>
<path d="M966.8 916L966.8 916.5L966.9 917.1L966.9 917.7L966.9 918.4L966.9 919.2L966.9 920L967 920.8L967 921.7L967 922.6L967 923.5L967.1 924.5L967.1 925.5L967.1 926.5L967.2 927.6L967.2 928.7L967.2 929.8L967.3 931L965.2 932L965.2 933.1L965.2 934.3L965.3 935.5L965.3 936.8L965.3 938L965.3 939.2L965.3 940.5L965.3 941.7L965.4 943L965.4 944.2L965.4 945.5L965.4 946.7L965.4 947.6L965.4 948.5L965.4 949.4L965.4 950.3L965.4 951.3L965.4 952.2L965.4 953.2L963.3 954L963.3 955L963.3 956L963.3 957L963.3 958L963.3 959L963.3 960.1L963.3 961.1L963.3 962.2L963.3 963.2L963.3 964.3L963.3 965.3L963.3 966.4L963.3 967.5L963.3 968.5L963.3 969.6L963.3 970.7L963.2 971.8L963.2 972.8L963.2 973.9L963.2 975L961.1 975.8L961 976.9L961 977.9L961 979L960.9 980L960.9 981.1L960.8 982.1L960.8 983.1L960.7 984.2L960.7 985.2L960.6 986.2L960.6 987.2L960.5 988.1L960.4 989.1L960.3 990.1L960.2 991.1L960.1 992.2L960 993.2L959.9 994.3L959.8 995.3L959.7 996.3L959.6 997.3L957.4 997.9L957.3 998.9L957.1 999.9L957 1000.8L956.8 1001.8L956.7 1002.8L956.6 1003.8L956.4 1004.7L956.3 1005.7L956.1 1006.6L955.9 1007.6L955.8 1008.6L955.6 1009.5L955.4 1010.5L955.2 1011.4L955.1 1012.4L954.9 1013.4L954.7 1014.3L954.5 1015.3L954.3 1016.3L954.1 1017.2L953.9 1018.2L951.7 1018.6L951.4 1019.5L951.2 1020.5L951 1021.5L950.8 1022.5L950.5 1023.5L950.3 1024.6L950 1025.6L949.8 1026.6L949.5 1027.5L949.3 1028.5L949.1 1029.4L948.8 1030.3L948.6 1031.3L948.3 1032.2L948.1 1033.2L947.8 1034.1L947.5 1035.1L947.3 1036L947 1037L946.7 1037.9L946.4 1038.9L944.2 1039.1L943.9 1040.1L943.6 1041L943.3 1042L943 1043L942.7 1043.9L942.4 1044.9L942.1 1045.9L941.8 1046.9L941.5 1047.8L941.2 1048.8L940.9 1049.8L940.6 1050.8L940.3 1051.8L939.9 1052.7L939.6 1053.7L939.3 1054.7L939 1055.7L938.6 1056.7L938.3 1057.7L938 1058.6L937.6 1059.6L935.4 1059.7L935 1060.7L934.7 1061.7L934.4 1062.7L934 1063.7L933.7 1064.6L933.4 1065.6L933 1066.6L932.7 1067.5L932.4 1068.5L932 1069.4L931.7 1070.4L931.4 1071.3L931 1072.3L930.7 1073.2L930.4 1074.2L930 1075.1L929.7 1076.1L929.4 1077L929 1078L928.7 1078.9L928.3 1079.9L926.1 1079.9L925.8 1080.9L925.4 1081.8L925.1 1082.8L924.7 1083.7L924.4 1084.7L924 1085.6L923.7 1086.6L923.3 1087.5L922.9 1088.5L922.6 1089.4L922.2 1090.4L921.8 1091.3L921.5 1092.3L921.1 1093.2L920.7 1094.2L920.3 1095.1L919.9 1096.1L919.5 1097.1L919.1 1098L918.7 1099L916.5 1098.9L916.1 1099.9L915.7 1100.8L915.2 1101.8L914.8 1102.8L914.4 1103.7L914 1104.7L913.5 1105.6L913.1 1106.6L912.7 1107.5L912.3 1108.3L911.9 1109.2L911.5 1110.1L911 1111L910.6 1111.9L910.2 1112.8L909.8 1113.7L909.3 1114.6L908.9 1115.5L908.5 1116.4L908 1117.3L907.6 1118.2L905.4 1118L904.9 1118.9L904.5 1119.8L904 1120.8L903.6 1121.7L903.1 1122.6L902.7 1123.5L902.2 1124.4L901.7 1125.3L901.3 1126.2L900.8 1127.1L900.3 1128L899.8 1128.9L899.4 1129.8L898.9 1130.7L898.4 1131.6L897.9 1132.5L897.4 1133.4L896.9 1134.3L896.4 1135.2L895.9 1136.1L895.4 1136.9L893.2 1136.6L892.7 1137.5L892.2 1138.3L891.6 1139.2L891.1 1140.1L890.6 1140.9L890.1 1141.8L889.5 1142.6L889 1143.5L888.5 1144.3L887.9 1145.1L887.4 1146L886.8 1146.8L886.3 1147.6L885.7 1148.5L885.1 1149.3L884.5 1150.1L884 1151L883.4 1151.8L882.8 1152.6L882.2 1153.4L881.6 1154.2L879.5 1153.6L878.9 1154.4L878.3 1155.2L877.7 1156L877.1 1156.8L876.5 1157.6L875.9 1158.4L875.3 1159.1L874.7 1159.9L874.1 1160.7L873.4 1161.5L872.8 1162.3L872.2 1163L871.6 1163.8L870.9 1164.6L870.3 1165.3L869.6 1166.1L869 1166.9L868.3 1167.6L867.7 1168.4L867 1169.1L866.3 1169.9L864.2 1169.1L863.6 1169.9L862.9 1170.6L862.2 1171.4L861.5 1172.1L860.8 1172.9L860.1 1173.6L859.4 1174.4L858.7 1175.1L858 1175.9L857.3 1176.6L856.6 1177.4L855.8 1178.1L855.1 1178.9L854.3 1179.6L853.6 1180.4L852.9 1181L852.2 1181.7L851.5 1182.4L850.9 1183.1L850.2 1183.8L849.5 1184.5L847.5 1183.5L846.8 1184.2L846.1 1184.9L845.4 1185.6L844.6 1186.3L843.9 1186.9L843.2 1187.6L842.5 1188.3L841.8 1189L841.1 1189.7L840.3 1190.4L839.6 1191.1L838.9 1191.7L838.1 1192.4L837.4 1193.1L836.6 1193.8L835.9 1194.5L835.1 1195.1L834.4 1195.8L833.6 1196.5L832.8 1197.2L832 1197.8L830 1196.8L829.3 1197.4L828.5 1198.1L827.7 1198.8L826.9 1199.4L826.1 1200.1L825.3 1200.7L824.5 1201.4L823.7 1202L822.8 1202.6L822 1203.3L821.2 1203.9L820.3 1204.5L819.5 1205.2L818.6 1205.8L817.7 1206.4L816.9 1207L816 1207.6L815.1 1208.2L814.2 1208.8L813.3 1209.4L811.5 1208.1L810.6 1208.7L809.6 1209.3L808.8 1209.8L808 1210.3L807.2 1210.8L806.3 1211.3L805.5 1211.8L804.6 1212.3L803.7 1212.8L802.8 1213.3L801.8 1213.8L800.9 1214.3L800 1214.8L799 1215.2L798 1215.7L797 1216.2L796 1216.7L795 1217.2L794 1217.7L793 1218.2L791.3 1216.7L790.3 1217.2L789.2 1217.7L788.2 1218.1L787.2 1218.6L786.2 1219.1L785.1 1219.6L784.1 1220L783.1 1220.5L782 1220.9L781 1221.4L780 1221.8L778.9 1222.3L777.9 1222.7L776.9 1223.2L775.9 1223.6L774.9 1224L773.9 1224.4L772.9 1224.9L771.9 1225.3L770.3 1223.7L769.4 1224.1L768.4 1224.5L767.5 1224.9L766.6 1225.3L765.7 1225.6L764.8 1226L763.9 1226.4L763 1226.7L762.2 1227.1L761.3 1227.4L760.5 1227.8L759.7 1228.1L758.9 1228.4L758.2 1228.7L757.5 1229L756.7 1229.3L756.1 1229.6L755.4 1229.9L754.7 1230.2L754.1 1230.5L753.5 1230.7L751.3 1231.7L748.8 1230.4L747.1 1231.1L745.7 1231.6L744.5 1232.1L743.4 1232.4L742.5 1232.7L741.7 1232.9L741 1233L740.4 1233.1L739.9 1233.2L739.4 1233.3L739 1233.4L738.5 1233.5L738 1233.7" fill="none" stroke="#000" stroke-width="3.3" stroke-linejoin="miter"/>
<line x1="497" y1="919" x2="509.8" y2="919" stroke="#000" stroke-width="3.3" />
<line x1="951.7" y1="916" x2="967.3" y2="916" stroke="#000" stroke-width="3.3" />
<path d="M509.8 919C510.9 925.5 514.1 945.3 516.3 957.8C518.5 970.3 520.2 982.8 522.8 994C525.4 1005.2 528.2 1013.8 531.9 1025C535.6 1036.2 540.4 1049.8 544.8 1061.5C549.1 1073.2 554.1 1087.2 558 1095C561.9 1102.8 564 1104.7 568 1108C572 1111.3 575.9 1113 582 1115C588.1 1117 596.8 1118.1 604.4 1119.8C612 1121.5 621.9 1123.1 627.8 1125C633.6 1126.9 637.5 1130 639.5 1131" fill="none" stroke="#000" stroke-width="2.4" />
<path d="M951.7 916C950.9 921.1 948.7 934.4 946.7 946.7C944.8 959 942.8 976.7 940 990C937.2 1003.3 933.9 1013.9 930 1026.7C926.1 1039.5 921 1055.2 916.7 1066.7C912.4 1078.2 908 1088.6 904 1096C900 1103.4 897.3 1107.2 893 1111C888.7 1114.8 884.6 1116.5 878 1118.5C871.4 1120.5 861.3 1122 853.3 1123.3C845.3 1124.5 835 1124.8 830 1126C825 1127.2 824.4 1129.9 823.3 1130.7" fill="none" stroke="#000" stroke-width="2.4" />
<line x1="565" y1="1131" x2="896" y2="1131.7" stroke="#000" stroke-width="2.4" />
<line x1="572.5" y1="1142.3" x2="889" y2="1141" stroke="#000" stroke-width="2.4" />
<rect x="591.5" y="1139.5" width="9" height="9" fill="#000" transform="rotate(-40 596 1144)"/>
<rect x="862" y="1140" width="9" height="9" fill="#000" transform="rotate(40 866.5 1144.5)"/>
<path d="M588 1142.3C590.8 1145.1 598.8 1153 605 1159C611.2 1165 615.8 1170.5 625.2 1178C634.6 1185.5 649 1197.4 661.5 1204C674 1210.6 691.6 1214.8 700 1217.5C708.4 1220.2 710 1220 712 1220.5" fill="none" stroke="#000" stroke-width="2.4" />
<path d="M873 1141.5C869.7 1145.1 862.1 1155.2 853.3 1163.3C844.5 1171.4 831.1 1182.5 820 1190C808.9 1197.5 797.8 1203.3 786.7 1208.3C775.6 1213.3 758.9 1218 753.3 1220" fill="none" stroke="#000" stroke-width="2.4" />
<line x1="640.7" y1="1204" x2="655" y2="1201" stroke="#000" stroke-width="2.4" />
<line x1="810" y1="1198.3" x2="821.7" y2="1203.3" stroke="#000" stroke-width="2.4" />
<rect x="516.3" y="953.9" width="6.5" height="6.5" fill="#000" />
<rect x="526.7" y="1004.4" width="6.4" height="9.1" fill="#000" />
<rect x="547.4" y="1065.4" width="7.8" height="9.1" fill="#000" />
<rect x="953.3" y="918.3" width="5" height="8.4" fill="#000" />
<rect x="940" y="951.7" width="6.7" height="8.3" fill="#000" />
<rect x="930" y="1003.3" width="6.7" height="8.4" fill="#000" />
<rect x="906.7" y="1066.7" width="6.6" height="10" fill="#000" />
<rect x="498.5" y="920" width="5" height="8" fill="#000" />
<line x1="521.5" y1="992" x2="674.5" y2="992" stroke="#000" stroke-width="4.6" stroke-linecap="butt"/>
<line x1="504" y1="1001.5" x2="676.3" y2="1001.5" stroke="#000" stroke-width="2.4" />
<path d="M506 994L501.5 994.3Q495 997.7 501.5 1001.3L506 1001.5" fill="none" stroke="#000" stroke-width="2.4" />
<rect x="666.7" y="970.7" width="6.3" height="23.3" fill="#000" rx="1"/>
<path d="M673 982.4L676.3 982.4L676.3 1003L672 1003" fill="none" stroke="#000" stroke-width="2.4" />
<rect x="655" y="1005.7" width="11.7" height="7.8" fill="#000" rx="1"/>
<line x1="785.7" y1="992.5" x2="953" y2="992.5" stroke="#000" stroke-width="4.6" stroke-linecap="butt"/>
<line x1="785.7" y1="1003.3" x2="958" y2="1003.3" stroke="#000" stroke-width="2.4" />
<path d="M953 993.5L960.5 993.8Q969 998.5 960.5 1003.3L953 1003.3" fill="none" stroke="#000" stroke-width="2.4" />
<rect x="788.3" y="970" width="6.7" height="22" fill="#000" rx="1"/>
<path d="M788.3 980L785.7 980L785.7 1004L790 1004" fill="none" stroke="#000" stroke-width="2.4" />
<rect x="793.3" y="1004.5" width="10.7" height="8.8" fill="#000" rx="1"/>
<path d="M700.4 1143.2C700.4 1143.8 699.1 1146.1 700.4 1147C701.7 1147.9 705 1147.1 708.2 1148.4C711.4 1149.7 717.1 1152 719.8 1154.8C722.5 1157.6 723.5 1155.2 724.2 1165.2C724.9 1175.2 724.2 1206.3 724.2 1214.5" fill="none" stroke="#000" stroke-width="2.4" />
<path d="M761.7 1143.3C761.4 1144.1 762.3 1147 760 1148.3C757.7 1149.6 751.3 1149.7 748 1151C744.7 1152.3 741.8 1153.6 740 1156C738.2 1158.4 737.6 1155.5 737.2 1165.2C736.8 1175 737.5 1206.3 737.5 1214.5" fill="none" stroke="#000" stroke-width="2.4" />
<rect x="709.5" y="1214.5" width="42.7" height="17" fill="url(#hatA)" stroke="#000" stroke-width="3.2" rx="6"/>
<rect x="724.2" y="1234" width="15.4" height="20.4" fill="url(#hatB)" stroke="#000" stroke-width="2.4" />
<line x1="731" y1="963" x2="731" y2="1264" stroke="#000" stroke-width="1.2" stroke-dasharray="26 3 3 3" stroke-linecap="butt"/>
<line x1="682.5" y1="944.4" x2="618.7" y2="989" stroke="#000" stroke-width="1.7" />
<line x1="725.5" y1="942.6" x2="676.3" y2="982.4" stroke="#000" stroke-width="1.7" />
<line x1="725.5" y1="942.6" x2="786.7" y2="980" stroke="#000" stroke-width="1.7" />
<path d="M577.8 1417L577.8 1321.8L631 1321.8L631 1352.5L668 1352.5L668 1321.8L720.4 1321.8L720.4 1352.5L806.7 1352.5L806.7 1321.8L856.2 1321.8L856.2 1352.5L893.2 1352.5L893.2 1321.8L946.3 1321.8L946.3 1417" fill="none" stroke="#000" stroke-width="2.8" stroke-linejoin="miter"/>
<path d="M579.8 1327.6L625.6 1327.6L625.6 1357.6L673.4 1357.6L673.4 1327.6L715 1327.6L715 1357.6L812.1 1357.6L812.1 1327.6L850.8 1327.6L850.8 1357.6L898.6 1357.6L898.6 1327.6L944.3 1327.6" fill="none" stroke="#000" stroke-width="1.9" stroke-linejoin="miter"/>
<line x1="580.2" y1="1322" x2="580.2" y2="1416" stroke="#000" stroke-width="1.9" />
<line x1="595" y1="1327.6" x2="595" y2="1416" stroke="#000" stroke-width="1.9" stroke-linecap="butt"/>
<line x1="611" y1="1327.6" x2="611" y2="1416" stroke="#000" stroke-width="1.9" stroke-linecap="butt"/>
<line x1="626.5" y1="1357.6" x2="626.5" y2="1416" stroke="#000" stroke-width="1.9" stroke-linecap="butt"/>
<line x1="641.7" y1="1357.6" x2="641.7" y2="1416" stroke="#000" stroke-width="1.9" stroke-linecap="butt"/>
<line x1="658.2" y1="1357.6" x2="658.2" y2="1416" stroke="#000" stroke-width="1.9" stroke-linecap="butt"/>
<line x1="674.7" y1="1327.6" x2="674.7" y2="1416" stroke="#000" stroke-width="1.9" stroke-linecap="butt"/>
<line x1="688.3" y1="1327.6" x2="688.3" y2="1416" stroke="#000" stroke-width="1.9" stroke-linecap="butt"/>
<line x1="703.9" y1="1327.6" x2="703.9" y2="1416" stroke="#000" stroke-width="1.9" stroke-linecap="butt"/>
<line x1="720.4" y1="1357.6" x2="720.4" y2="1416" stroke="#000" stroke-width="1.9" stroke-linecap="butt"/>
<line x1="736" y1="1357.6" x2="736" y2="1416" stroke="#000" stroke-width="1.9" stroke-linecap="butt"/>
<line x1="751.5" y1="1357.6" x2="751.5" y2="1416" stroke="#000" stroke-width="1.9" stroke-linecap="butt"/>
<line x1="767.8" y1="1357.6" x2="767.8" y2="1416" stroke="#000" stroke-width="1.9" stroke-linecap="butt"/>
<line x1="784.3" y1="1357.6" x2="784.3" y2="1416" stroke="#000" stroke-width="1.9" stroke-linecap="butt"/>
<line x1="800.2" y1="1357.6" x2="800.2" y2="1416" stroke="#000" stroke-width="1.9" stroke-linecap="butt"/>
<line x1="816" y1="1327.6" x2="816" y2="1416" stroke="#000" stroke-width="1.9" stroke-linecap="butt"/>
<line x1="832" y1="1327.6" x2="832" y2="1416" stroke="#000" stroke-width="1.9" stroke-linecap="butt"/>
<line x1="847.5" y1="1327.6" x2="847.5" y2="1416" stroke="#000" stroke-width="1.9" stroke-linecap="butt"/>
<line x1="865" y1="1357.6" x2="865" y2="1416" stroke="#000" stroke-width="1.9" stroke-linecap="butt"/>
<line x1="882.5" y1="1357.6" x2="882.5" y2="1416" stroke="#000" stroke-width="1.9" stroke-linecap="butt"/>
<line x1="899.6" y1="1327.6" x2="899.6" y2="1416" stroke="#000" stroke-width="1.9" stroke-linecap="butt"/>
<line x1="914.6" y1="1327.6" x2="914.6" y2="1416" stroke="#000" stroke-width="1.9" stroke-linecap="butt"/>
<line x1="930" y1="1327.6" x2="930" y2="1416" stroke="#000" stroke-width="1.9" stroke-linecap="butt"/>
<line x1="943" y1="1327.6" x2="943" y2="1416" stroke="#000" stroke-width="1.9" stroke-linecap="butt"/>
<rect x="574" y="1415.7" width="376.3" height="5.8" fill="#fff" stroke="#000" stroke-width="2" rx="1.5"/>
<rect x="574" y="1459.9" width="376.6" height="6.4" fill="#fff" stroke="#000" stroke-width="2" rx="1.5"/>
<line x1="580" y1="1421.5" x2="580" y2="1460" stroke="#000" stroke-width="2.8" />
<line x1="944.8" y1="1421.5" x2="944.8" y2="1460" stroke="#000" stroke-width="2.8" />
<line x1="580" y1="1433.8" x2="944.8" y2="1433.8" stroke="#000" stroke-width="1.9" />
<line x1="580" y1="1449.3" x2="944.8" y2="1449.3" stroke="#000" stroke-width="1.9" />
<line x1="579.3" y1="1466.7" x2="579.3" y2="1572.5" stroke="#000" stroke-width="2.8" />
<line x1="941.3" y1="1466.7" x2="941.8" y2="1572.5" stroke="#000" stroke-width="2.8" />
<line x1="579.3" y1="1572.4" x2="941.8" y2="1572.4" stroke="#000" stroke-width="2.8" />
<line x1="595.7" y1="1466.7" x2="595.7" y2="1572" stroke="#000" stroke-width="1.9" />
<line x1="611.7" y1="1466.7" x2="611.7" y2="1572" stroke="#000" stroke-width="1.9" />
<line x1="626.3" y1="1466.7" x2="626.3" y2="1572" stroke="#000" stroke-width="2.2" />
<line x1="899.4" y1="1466.7" x2="899.4" y2="1572" stroke="#000" stroke-width="2.2" />
<line x1="914.3" y1="1466.7" x2="914.3" y2="1572" stroke="#000" stroke-width="1.9" />
<line x1="930.5" y1="1466.7" x2="930.5" y2="1572" stroke="#000" stroke-width="1.9" />
<path d="M579.3 1467.6L566.1 1505.6L574.9 1551.9L578.6 1552.8" fill="none" stroke="#000" stroke-width="2.6" />
<path d="M566.5 1505.6L580 1505.6L589.3 1572.2" fill="none" stroke="#000" stroke-width="1.9" />
<rect x="574.9" y="1505.6" width="5.6" height="9.2" fill="#000" rx="1"/>
<rect x="577.7" y="1520.4" width="5.1" height="10.2" fill="#000" rx="1"/>
<rect x="586.5" y="1548.6" width="5.5" height="6.4" fill="#000" rx="1"/>
<path d="M943.9 1468.5L956.4 1505.6L946.2 1551.9L943.9 1552.8L942 1573" fill="none" stroke="#000" stroke-width="2.6" />
<path d="M956 1505.6L942 1505.6" fill="none" stroke="#000" stroke-width="1.9" />
<line x1="948.5" y1="1507.4" x2="933.2" y2="1571.3" stroke="#000" stroke-width="1.9" />
<rect x="941.6" y="1504.6" width="6.9" height="10.2" fill="#000" rx="1"/>
<rect x="940.2" y="1520.4" width="5.1" height="10.2" fill="#000" rx="1"/>
<rect x="930.5" y="1548" width="5.1" height="8.5" fill="#000" rx="1"/>
<path d="M645.8 1793L645.8 1697.5L699.5 1697.5L699.5 1728.8L736.3 1728.8L736.3 1697.5L787.5 1697.5L787.5 1728.8L825 1728.8L825 1697.5L877.3 1697.5L877.3 1793" fill="none" stroke="#000" stroke-width="2.8" stroke-linejoin="miter"/>
<path d="M647.8 1701.6L694.3 1701.6L694.3 1733.8L741.5 1733.8L741.5 1701.6L782.3 1701.6L782.3 1733.8L830.2 1733.8L830.2 1701.6L875.3 1701.6" fill="none" stroke="#000" stroke-width="1.9" stroke-linejoin="miter"/>
<line x1="665" y1="1701.6" x2="665" y2="1792.5" stroke="#000" stroke-width="1.9" stroke-linecap="butt"/>
<line x1="682" y1="1701.6" x2="682" y2="1792.5" stroke="#000" stroke-width="1.9" stroke-linecap="butt"/>
<line x1="697.5" y1="1733.8" x2="697.5" y2="1792.5" stroke="#000" stroke-width="1.9" stroke-linecap="butt"/>
<line x1="715" y1="1733.8" x2="715" y2="1792.5" stroke="#000" stroke-width="1.9" stroke-linecap="butt"/>
<line x1="731.3" y1="1733.8" x2="731.3" y2="1792.5" stroke="#000" stroke-width="1.9" stroke-linecap="butt"/>
<line x1="746.3" y1="1701.6" x2="746.3" y2="1792.5" stroke="#000" stroke-width="1.9" stroke-linecap="butt"/>
<line x1="760.5" y1="1701.6" x2="760.5" y2="1792.5" stroke="#000" stroke-width="1.9" stroke-linecap="butt"/>
<line x1="775" y1="1701.6" x2="775" y2="1792.5" stroke="#000" stroke-width="1.9" stroke-linecap="butt"/>
<line x1="790" y1="1733.8" x2="790" y2="1792.5" stroke="#000" stroke-width="1.9" stroke-linecap="butt"/>
<line x1="808" y1="1733.8" x2="808" y2="1792.5" stroke="#000" stroke-width="1.9" stroke-linecap="butt"/>
<line x1="825" y1="1733.8" x2="825" y2="1792.5" stroke="#000" stroke-width="1.9" stroke-linecap="butt"/>
<line x1="843" y1="1701.6" x2="843" y2="1792.5" stroke="#000" stroke-width="1.9" stroke-linecap="butt"/>
<line x1="859.5" y1="1701.6" x2="859.5" y2="1792.5" stroke="#000" stroke-width="1.9" stroke-linecap="butt"/>
<line x1="874" y1="1701.6" x2="874" y2="1792.5" stroke="#000" stroke-width="1.9" stroke-linecap="butt"/>
<line x1="648.5" y1="1699" x2="648.5" y2="1792.5" stroke="#000" stroke-width="1.9" />
<rect x="643" y="1793.2" width="237.5" height="5.6" fill="#fff" stroke="#000" stroke-width="2" rx="1.5"/>
<rect x="643" y="1836.6" width="237.5" height="5.6" fill="#fff" stroke="#000" stroke-width="2" rx="1.5"/>
<line x1="647.5" y1="1799" x2="647.5" y2="1836.5" stroke="#000" stroke-width="2.8" />
<line x1="874.3" y1="1799" x2="874.3" y2="1836.5" stroke="#000" stroke-width="2.8" />
<line x1="647.5" y1="1810" x2="874.3" y2="1810" stroke="#000" stroke-width="1.9" />
<line x1="647.5" y1="1824.5" x2="874.3" y2="1824.5" stroke="#000" stroke-width="1.9" />
<line x1="650.5" y1="1842" x2="650.5" y2="1910" stroke="#000" stroke-width="2.8" />
<line x1="875.3" y1="1842" x2="875.3" y2="1912" stroke="#000" stroke-width="2.8" />
<line x1="665" y1="1842" x2="665" y2="1891" stroke="#000" stroke-width="1.9" />
<line x1="682" y1="1842" x2="682" y2="1891" stroke="#000" stroke-width="1.9" />
<line x1="697.5" y1="1842" x2="697.5" y2="1891" stroke="#000" stroke-width="1.9" />
<line x1="715" y1="1842" x2="715" y2="1892" stroke="#000" stroke-width="1.9" />
<line x1="731.3" y1="1842" x2="731.3" y2="1861.3" stroke="#000" stroke-width="1.9" />
<line x1="746.3" y1="1842" x2="746.3" y2="1861.3" stroke="#000" stroke-width="1.9" />
<line x1="760.5" y1="1842" x2="760.5" y2="1861.3" stroke="#000" stroke-width="1.9" />
<line x1="775" y1="1842" x2="775" y2="1861.3" stroke="#000" stroke-width="1.9" />
<line x1="790" y1="1842" x2="790" y2="1861.3" stroke="#000" stroke-width="1.9" />
<line x1="807" y1="1842" x2="807" y2="1892" stroke="#000" stroke-width="1.9" />
<line x1="825" y1="1842" x2="825" y2="1893" stroke="#000" stroke-width="1.9" />
<line x1="843" y1="1842" x2="843" y2="1893" stroke="#000" stroke-width="1.9" />
<line x1="859.5" y1="1842" x2="859.5" y2="1893" stroke="#000" stroke-width="1.9" />
<line x1="715" y1="1861.3" x2="807" y2="1861.3" stroke="#000" stroke-width="2.2" />
<line x1="650.5" y1="1891.5" x2="752.5" y2="1892" stroke="#000" stroke-width="2.2" />
<line x1="770" y1="1892.5" x2="875.3" y2="1893" stroke="#000" stroke-width="2.2" />
<line x1="650" y1="1910" x2="752.5" y2="1923.8" stroke="#000" stroke-width="2" />
<line x1="876" y1="1912.5" x2="770.5" y2="1925" stroke="#000" stroke-width="2" />
<rect x="752.5" y="1887.5" width="17.5" height="53.8" fill="#fff" stroke="#000" stroke-width="2" rx="1"/>
<line x1="880.4" y1="1795.6" x2="1057.6" y2="1795.4" stroke="#000" stroke-width="2.4" />
<line x1="903.8" y1="1795.4" x2="880.8" y2="1839.5" stroke="#000" stroke-width="1.7" />
<path d="M138.8 1336 L283.8 1104 Q287.5 1096.5 292.5 1100.5 Q298.3 1103.5 296.3 1109 L151.7 1344.5" fill="none" stroke="#000" stroke-width="2.4" />
<line x1="127.4" y1="1351.9" x2="48.1" y2="1481" stroke="#000" stroke-width="2.4" />
<line x1="139.3" y1="1359.3" x2="69.1" y2="1479" stroke="#000" stroke-width="2.4" />
<line x1="50" y1="1584" x2="-2" y2="1665.6" stroke="#000" stroke-width="2.4" />
<line x1="69.4" y1="1582" x2="-2" y2="1694.7" stroke="#000" stroke-width="2.4" />
<path d="M165.8 1321.5L218.5 1354.1L205.5 1376.5" fill="none" stroke="#000" stroke-width="2.4" />
<path d="M136.3 1335.6L129.6 1346.7L196.3 1385.9L203.7 1375.6Z" fill="#fff" stroke="#000" stroke-width="2.4" />
<circle cx="155.6" cy="1355.6" r="2.3" fill="#000"/>
<circle cx="171.1" cy="1365.2" r="2.3" fill="#000"/>
<circle cx="190.4" cy="1376.7" r="2.3" fill="#000"/>
<path d="M79.2 1426.4L73.6 1436.1L116.7 1462.5L123.6 1451.4Z" fill="#fff" stroke="#000" stroke-width="2.4" />
<circle cx="103.3" cy="1447.4" r="2.1" fill="#000"/>
<circle cx="113.5" cy="1453.4" r="2.1" fill="#000"/>
<line x1="-2" y1="1178.3" x2="122" y2="1179.7" stroke="#000" stroke-width="2.4" />
<line x1="-2" y1="1190.8" x2="123.5" y2="1188.7" stroke="#000" stroke-width="2.4" />
<ellipse cx="127.5" cy="1183.5" rx="5" ry="3.6" fill="#fff" stroke="#000" stroke-width="2"/>
<ellipse cx="131.5" cy="1192.5" rx="5" ry="3.6" fill="#fff" stroke="#000" stroke-width="2"/>
<line x1="133" y1="1182" x2="181" y2="1184" stroke="#000" stroke-width="3.2" />
<line x1="137.5" y1="1193.4" x2="183" y2="1188.6" stroke="#000" stroke-width="2.2" />
<path d="M178 1182.6L205 1181.6L235 1182.4L247 1185.2L250.5 1188.6L249 1193.5L245 1195.4L228 1192L205 1190.6L180 1189.8Z" fill="#000" stroke="#000" stroke-width="1.2" />
<line x1="121.7" y1="1190" x2="33.3" y2="1267.5" stroke="#000" stroke-width="2.4" />
<line x1="131.7" y1="1197.5" x2="45" y2="1270" stroke="#000" stroke-width="2.4" />
<path d="M20.5 1269.5L44.5 1274Q46.5 1276 45 1278.5L28.5 1293.5Q26 1295 24.5 1292.5L19 1272.5Q18.8 1269.6 20.5 1269.5Z" fill="#fff" stroke="#000" stroke-width="2.2" />
<path d="M25 1274.5L39 1277L27.5 1288.5Z" fill="none" stroke="#000" stroke-width="2" />
<line x1="-3" y1="1243" x2="22.5" y2="1267.2" stroke="#000" stroke-width="7.6" stroke-linecap="butt"/>
<line x1="20" y1="1281.7" x2="-2" y2="1299" stroke="#000" stroke-width="2.4" />
<line x1="22.5" y1="1290" x2="-2" y2="1310" stroke="#000" stroke-width="2.4" />
<line x1="36" y1="1281" x2="144.4" y2="1362.5" stroke="#000" stroke-width="2.8" />
<line x1="34" y1="1284" x2="136.1" y2="1376.4" stroke="#000" stroke-width="2.8" />
<line x1="32" y1="1287" x2="129.2" y2="1390.3" stroke="#000" stroke-width="2.8" />
<ellipse cx="146.6" cy="1367.5" rx="2.4" ry="4.2" fill="#fff" stroke="#000" stroke-width="1.8" transform="rotate(32 146.6 1367.5)"/>
<ellipse cx="138.6" cy="1381" rx="2.4" ry="4.2" fill="#fff" stroke="#000" stroke-width="1.8" transform="rotate(32 138.6 1381)"/>
<ellipse cx="131" cy="1394.3" rx="2.4" ry="4.2" fill="#fff" stroke="#000" stroke-width="1.8" transform="rotate(32 131 1394.3)"/>
<line x1="31" y1="1287.4" x2="68.5" y2="1481" stroke="#000" stroke-width="2.4" />
<ellipse cx="214" cy="1373.5" rx="3.6" ry="4.6" fill="#000"/>
<path d="M211.5 1376L209.8 1390.5L218.5 1391.5L215.5 1376Z" fill="none" stroke="#000" stroke-width="1.8" />
<line x1="209.6" y1="1375.6" x2="131.5" y2="1475.5" stroke="#000" stroke-width="2" />
<line x1="212.6" y1="1377" x2="142.5" y2="1474.4" stroke="#000" stroke-width="2" />
<line x1="217.6" y1="1391.9" x2="213.3" y2="1431" stroke="#000" stroke-width="1.8" />
<line x1="212.3" y1="1432.5" x2="196.3" y2="1501" stroke="#000" stroke-width="3" />
<path d="M212.6 1432Q196 1430.5 188.5 1437.5Q186 1441 187 1446" fill="none" stroke="#000" stroke-width="2" />
<path d="M212.6 1432Q201 1432.5 198.5 1439Q197.5 1443 198 1447" fill="none" stroke="#000" stroke-width="2" />
<path d="M212.6 1432Q221 1433.5 221.5 1441Q221 1445 220.5 1449" fill="none" stroke="#000" stroke-width="2" />
<path d="M212.6 1432Q229 1433 232.5 1443Q233.5 1448 232 1453" fill="none" stroke="#000" stroke-width="2" />
<ellipse cx="187.2" cy="1445.5" rx="2" ry="3.4" fill="#000"/>
<ellipse cx="198.2" cy="1446.5" rx="2" ry="3.4" fill="#000"/>
<ellipse cx="220.4" cy="1449" rx="2" ry="3.4" fill="#000"/>
<ellipse cx="231.8" cy="1452.5" rx="2" ry="3.4" fill="#000"/>
<ellipse cx="195.7" cy="1505.6" rx="3.6" ry="4.4" fill="#fff" stroke="#000" stroke-width="2"/>
<path d="M194.6 1510C194.1 1513 192.7 1522.8 191.7 1527.8C190.7 1532.8 189.1 1538 188.6 1540" fill="none" stroke="#000" stroke-width="3.4" />
<path d="M188.6 1540C187.9 1542.1 187.2 1547.2 184.7 1552.8C182.2 1558.4 178.4 1566.7 173.6 1573.6C168.8 1580.5 163.7 1587.7 155.6 1594.4C147.5 1601.1 136.1 1608.6 125 1613.9C113.9 1619.2 101.4 1623.7 88.9 1626.4C76.4 1629.1 65.2 1630 50 1630C34.9 1630 6.7 1627 -2 1626.4" fill="none" stroke="#000" stroke-width="2.6" stroke-dasharray="9 1.5"/>
<path d="M253 1349.6L244 1351.5L181.5 1368.1" fill="none" stroke="#000" stroke-width="1.7" />
<path d="M253 1349.6L243 1353.5L217 1371.1" fill="none" stroke="#000" stroke-width="1.7" />
<line x1="191.9" y1="1388.9" x2="111.9" y2="1442.2" stroke="#000" stroke-width="1.3" stroke-dasharray="40 4 4 4"/>
<path d="M-2 1518L31.1 1515.6L31.1 1484.4L77.8 1481.1L77.8 1512.2L115.6 1510L115.6 1477.8L166.7 1473.8L168.9 1568" fill="none" stroke="#000" stroke-width="2.4" stroke-linejoin="miter"/>
<path d="M-2 1523.5L36.7 1521.1L36.7 1490L72.2 1486.7L72.2 1517.8L121.1 1514.4L121.1 1482.2L165.6 1478.9" fill="none" stroke="#000" stroke-width="1.7" stroke-linejoin="miter"/>
<line x1="14.4" y1="1522.5" x2="14.4" y2="1580.9" stroke="#000" stroke-width="1.6" stroke-linecap="butt"/>
<line x1="30.7" y1="1521.5" x2="30.7" y2="1579.5" stroke="#000" stroke-width="1.6" stroke-linecap="butt"/>
<line x1="47.8" y1="1489" x2="47.8" y2="1578" stroke="#000" stroke-width="1.6" stroke-linecap="butt"/>
<line x1="63.3" y1="1487.5" x2="63.3" y2="1576.6" stroke="#000" stroke-width="1.6" stroke-linecap="butt"/>
<line x1="78.9" y1="1517.3" x2="78.9" y2="1575.3" stroke="#000" stroke-width="1.6" stroke-linecap="butt"/>
<line x1="94.4" y1="1516.2" x2="94.4" y2="1573.9" stroke="#000" stroke-width="1.6" stroke-linecap="butt"/>
<line x1="108.9" y1="1515.2" x2="108.9" y2="1572.7" stroke="#000" stroke-width="1.6" stroke-linecap="butt"/>
<line x1="121.8" y1="1482.1" x2="121.8" y2="1571.5" stroke="#000" stroke-width="1.6" stroke-linecap="butt"/>
<line x1="136.7" y1="1481" x2="136.7" y2="1570.2" stroke="#000" stroke-width="1.6" stroke-linecap="butt"/>
<line x1="151.8" y1="1479.9" x2="151.8" y2="1568.9" stroke="#000" stroke-width="1.6" stroke-linecap="butt"/>
<line x1="-2" y1="1582.4" x2="173" y2="1567.1" stroke="#000" stroke-width="2.2" />
<line x1="-2" y1="1586.9" x2="171" y2="1571.5" stroke="#000" stroke-width="2.2" />
<rect x="95.1" y="1577.5" width="15.6" height="10.3" fill="#000" rx="1"/>
<path d="M112.5 1493.8L106.5 1494.5Q104 1498 105.5 1503" fill="none" stroke="#000" stroke-width="2.6" />
<circle cx="105.6" cy="1502.6" r="2.2" fill="#000"/>
<path d="M144.4 1578.3L134.7 1586.7L90 1596.2" fill="none" stroke="#000" stroke-width="2.4" />
<path d="M90 1596.2C88.3 1596.8 83.9 1596.9 80 1599.5C76.1 1602.1 71.2 1606.7 66.7 1611.7C62.2 1616.7 57.9 1623.2 52.8 1629.7C47.7 1636.2 39.7 1646.6 36.1 1650.6C32.5 1654.6 33.2 1652.7 31 1653.5C28.8 1654.3 24.2 1655.1 22.9 1655.4" fill="none" stroke="#000" stroke-width="2.4" />
<path d="M13.9 1588Q8 1597 -2 1606.5" fill="none" stroke="#000" stroke-width="2.4" />
<path d="M-2 1616C1.7 1615.2 13.2 1612.8 20 1611C26.8 1609.2 35.8 1606 38.9 1605" fill="none" stroke="#000" stroke-width="2.4" />
<line x1="-2" y1="1640" x2="16" y2="1634" stroke="#000" stroke-width="1.4" />
<line x1="639.6" y1="2015.3" x2="1078" y2="2013.2" stroke="#000" stroke-width="4.2" />
<line x1="639.6" y1="2015.3" x2="639.6" y2="2158.3" stroke="#000" stroke-width="3.2" />
<line x1="734.8" y1="2015" x2="734.8" y2="2158" stroke="#000" stroke-width="4.2" />
<line x1="734.8" y1="2064" x2="1078" y2="2061.6" stroke="#000" stroke-width="4.2" />
<line x1="734.8" y1="2111.6" x2="1078" y2="2109.7" stroke="#000" stroke-width="4.2" />
<line x1="843.2" y1="2063.5" x2="843.2" y2="2158" stroke="#000" stroke-width="4.2" />
<line x1="970.3" y1="2062.5" x2="970.3" y2="2157" stroke="#000" stroke-width="4.2" />
<path d="M666.8 2044.2L706.7 2043.8L705.2 2053.5L676 2053.5L674.3 2059.2L663.5 2059.2Z" fill="#000" stroke="#000" stroke-width="1.6" />
<path d="M694.4 2043.8L706.7 2043.8L697.1 2084.2L690.7 2105.8L686.7 2109.6L665.4 2112.1L659.8 2109.2L657.9 2104.2L660.2 2093.8L667.7 2092.9L668.8 2100.4L678.3 2100.4L681.8 2097.5L686.3 2084.2Z" fill="#000" stroke="#000" stroke-width="1.6" />
<path d="M684.2 2023.3L695 2023.3L682.9 2072.5L703.3 2072.5L705.8 2065L712.5 2065L708.3 2080.8L670 2080.8Z" fill="#fff" stroke="#000" stroke-width="2.3" stroke-linejoin="miter"/>
<text x="650.5" y="2140.8" font-size="19.2" font-weight="bold" font-style="italic" textLength="73.2" lengthAdjust="spacingAndGlyphs" stroke="#000" stroke-width="0.5" stroke-linejoin="round">GDAŃSK</text>
<text x="751.9" y="2050.8" font-size="33.4" font-weight="bold" font-style="italic" textLength="62.1" lengthAdjust="spacingAndGlyphs" stroke="#000" stroke-width="0.7" stroke-linejoin="round">KOGA</text>
<text x="828.4" y="2050.5" font-size="33.4" font-weight="bold" font-style="italic" textLength="135.3" lengthAdjust="spacingAndGlyphs" stroke="#000" stroke-width="0.7" stroke-linejoin="round">ELBLĄSKA</text>
<text x="973.3" y="2049.9" font-size="33.4" font-weight="bold" font-style="italic" textLength="17.5" lengthAdjust="spacingAndGlyphs" stroke="#000" stroke-width="0.7" stroke-linejoin="round">Z</text>
<text x="998.7" y="2049.8" font-size="33.4" font-weight="bold" font-style="italic" textLength="58.9" lengthAdjust="spacingAndGlyphs" stroke="#000" stroke-width="0.7" stroke-linejoin="round">1350</text>
<text x="1060.8" y="2049.6" font-size="33.4" font-weight="bold" font-style="italic" textLength="12.8" lengthAdjust="spacingAndGlyphs" stroke="#000" stroke-width="0.7" stroke-linejoin="round">r.</text>
<text x="758.9" y="2084.4" font-size="15.8" font-weight="bold" font-style="italic" textLength="50" lengthAdjust="spacingAndGlyphs" stroke="#000" stroke-width="1" stroke-linejoin="round">SKALA</text>
<text x="762.2" y="2105.6" font-size="25" font-weight="bold" font-style="italic" textLength="44.5" lengthAdjust="spacingAndGlyphs" stroke="#000" stroke-width="0.7" stroke-linejoin="round">1:50</text>
<text x="761.1" y="2128.4" font-size="14.5" font-weight="bold" font-style="italic" textLength="37.8" lengthAdjust="spacingAndGlyphs" stroke="#000" stroke-width="1" stroke-linejoin="round">DATA</text>
<text x="752.2" y="2145.6" font-size="19.2" font-weight="bold" font-style="italic" textLength="63.4" lengthAdjust="spacingAndGlyphs" stroke="#000" stroke-width="0.9" stroke-linejoin="round">5.01.69.</text>
<text x="856.7" y="2084" font-size="15.3" font-weight="bold" font-style="italic" textLength="93.3" lengthAdjust="spacingAndGlyphs" stroke="#000" stroke-width="1" stroke-linejoin="round">OPRACOWAŁ</text>
<text x="856.7" y="2102.2" font-size="17.7" font-weight="bold" font-style="italic" textLength="105.5" lengthAdjust="spacingAndGlyphs" stroke="#000" stroke-width="0.9" stroke-linejoin="round">JERZY LITWIN</text>
<text x="873.3" y="2128.9" font-size="15" font-weight="bold" font-style="italic" textLength="60" lengthAdjust="spacingAndGlyphs" stroke="#000" stroke-width="1" stroke-linejoin="round">KREŚLIŁ</text>
<text x="856.7" y="2145.6" font-size="17.7" font-weight="bold" font-style="italic" textLength="105.5" lengthAdjust="spacingAndGlyphs" stroke="#000" stroke-width="0.9" stroke-linejoin="round">JERZY LITWIN</text>
<text x="990" y="2082.4" font-size="17.7" font-weight="bold" font-style="italic" textLength="72.5" lengthAdjust="spacingAndGlyphs" stroke="#000" stroke-width="1" stroke-linejoin="round">RYSUNEK</text>
<text x="983.3" y="2102.5" font-size="18.2" font-weight="bold" font-style="italic" textLength="74.2" lengthAdjust="spacingAndGlyphs" stroke="#000" stroke-width="0.9" stroke-linejoin="round">69.01.04.</text>
<text x="991.7" y="2128" font-size="16.6" font-weight="bold" font-style="italic" textLength="65" lengthAdjust="spacingAndGlyphs" stroke="#000" stroke-width="1" stroke-linejoin="round">ARKUSZ</text>
<text x="1000" y="2148.5" font-size="22.1" font-weight="bold" font-style="italic" textLength="33.3" lengthAdjust="spacingAndGlyphs" stroke="#000" stroke-width="0.9" stroke-linejoin="round">1/2</text>
</svg>
</body></html>
